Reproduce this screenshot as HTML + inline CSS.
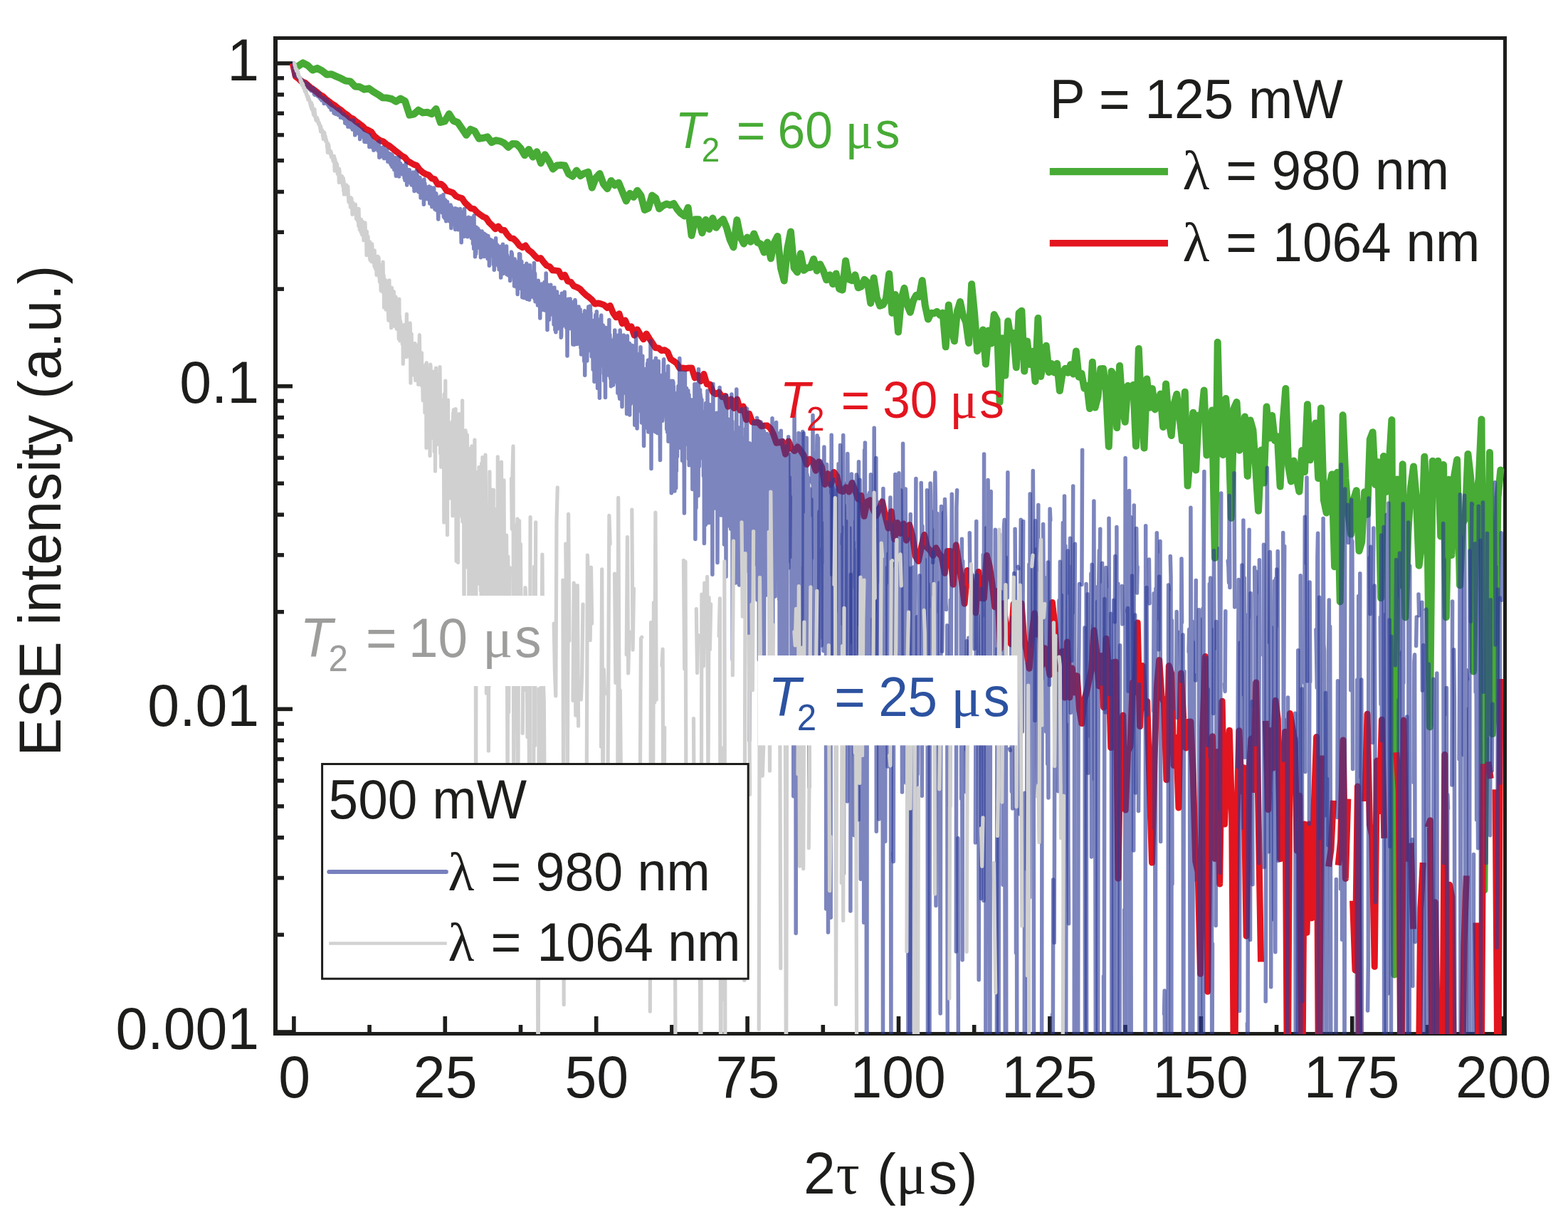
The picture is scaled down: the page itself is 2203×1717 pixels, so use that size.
<!DOCTYPE html>
<html><head><meta charset="utf-8"><title>ESE decay</title>
<style>html,body{margin:0;padding:0;background:#fff;overflow:hidden}svg{display:block}</style>
</head><body>
<svg xmlns="http://www.w3.org/2000/svg" width="2203" height="1717" viewBox="0 0 2203 1717">
<defs><clipPath id="pc"><rect x="390" y="56" width="1725" height="1397"/></clipPath></defs>
<rect width="2203" height="1717" fill="#fff"/>
<g fill="#1d1d1b"><rect x="390" y="86.20" width="21" height="5.6"/><rect x="390" y="539.87" width="21" height="5.6"/><rect x="390" y="993.53" width="21" height="5.6"/><rect x="390" y="1447.20" width="21" height="5.6"/><rect x="390" y="403.30" width="9" height="5.6"/><rect x="390" y="323.41" width="9" height="5.6"/><rect x="390" y="266.73" width="9" height="5.6"/><rect x="390" y="222.77" width="9" height="5.6"/><rect x="390" y="186.85" width="9" height="5.6"/><rect x="390" y="156.47" width="9" height="5.6"/><rect x="390" y="130.16" width="9" height="5.6"/><rect x="390" y="106.96" width="9" height="5.6"/><rect x="390" y="856.97" width="9" height="5.6"/><rect x="390" y="777.08" width="9" height="5.6"/><rect x="390" y="720.40" width="9" height="5.6"/><rect x="390" y="676.43" width="9" height="5.6"/><rect x="390" y="640.51" width="9" height="5.6"/><rect x="390" y="610.14" width="9" height="5.6"/><rect x="390" y="583.83" width="9" height="5.6"/><rect x="390" y="560.63" width="9" height="5.6"/><rect x="390" y="1310.63" width="9" height="5.6"/><rect x="390" y="1230.75" width="9" height="5.6"/><rect x="390" y="1174.07" width="9" height="5.6"/><rect x="390" y="1130.10" width="9" height="5.6"/><rect x="390" y="1094.18" width="9" height="5.6"/><rect x="390" y="1063.81" width="9" height="5.6"/><rect x="390" y="1037.50" width="9" height="5.6"/><rect x="390" y="1014.29" width="9" height="5.6"/><rect x="410.10" y="1428" width="5.6" height="24"/><rect x="622.50" y="1428" width="5.6" height="24"/><rect x="834.90" y="1428" width="5.6" height="24"/><rect x="1047.30" y="1428" width="5.6" height="24"/><rect x="1259.70" y="1428" width="5.6" height="24"/><rect x="1472.10" y="1428" width="5.6" height="24"/><rect x="1684.50" y="1428" width="5.6" height="24"/><rect x="1896.90" y="1428" width="5.6" height="24"/><rect x="2109.30" y="1428" width="5.6" height="24"/><rect x="516.30" y="1440" width="5.6" height="12"/><rect x="728.70" y="1440" width="5.6" height="12"/><rect x="941.10" y="1440" width="5.6" height="12"/><rect x="1153.50" y="1440" width="5.6" height="12"/><rect x="1365.90" y="1440" width="5.6" height="12"/><rect x="1578.30" y="1440" width="5.6" height="12"/><rect x="1790.70" y="1440" width="5.6" height="12"/><rect x="2003.10" y="1440" width="5.6" height="12"/><rect x="384" y="51" width="1733" height="5"/><rect x="384" y="1450" width="1733" height="5"/><rect x="384" y="51" width="6" height="1404"/><rect x="2112" y="51" width="5" height="1404"/></g>
<g clip-path="url(#pc)"><path fill="none" stroke="#47ab35" stroke-width="10.0" stroke-linejoin="round" stroke-linecap="round" d="M418.8 93.0L425.6 88.4L432.4 92.0L439.1 98.5L445.8 95.8L452.5 99.5L459.2 104.7L465.8 104.3L472.4 107.4L479.0 110.2L485.6 113.6L492.2 114.4L498.7 121.4L505.2 122.0L511.7 125.7L518.2 124.3L524.6 128.9L531.0 132.7L537.4 137.2L543.8 137.6L550.2 139.0L556.5 142.7L562.8 138.5L569.1 142.1L575.4 161.6L581.7 160.3L587.9 154.7L594.1 158.4L600.3 157.7L606.5 160.1L612.6 153.1L618.8 171.9L624.9 170.4L631.0 160.1L637.0 169.7L643.1 172.0L649.1 180.8L655.1 189.8L661.1 181.7L667.1 184.4L673.0 194.7L679.0 193.8L684.9 192.4L690.8 200.1L696.6 197.2L702.5 198.3L708.3 201.0L714.1 206.8L719.9 202.0L725.7 202.3L731.4 208.2L737.2 218.1L742.9 209.9L748.6 220.5L754.3 213.3L759.9 229.2L765.6 217.3L771.2 226.1L776.8 237.4L782.4 232.6L787.9 232.1L793.5 232.6L799.0 244.5L804.5 247.7L810.0 239.6L815.5 247.0L820.9 243.6L826.4 241.6L831.8 263.7L837.2 249.8L842.6 244.0L847.9 258.6L853.3 265.2L858.6 253.9L863.9 260.2L869.2 256.7L874.5 269.6L879.8 282.4L885.0 271.7L890.2 276.9L895.4 267.7L900.6 275.0L905.8 294.9L910.9 292.7L916.1 274.5L921.2 278.3L926.3 293.3L931.4 288.9L936.5 286.4L941.5 288.2L946.6 286.0L951.6 294.2L956.6 299.8L961.7 303.6L966.7 291.7L971.6 330.9L976.6 308.2L981.6 308.3L986.5 327.2L991.5 308.8L996.4 322.0L1001.3 306.6L1006.2 319.8L1011.1 312.5L1016.0 308.1L1020.8 319.5L1025.7 336.9L1030.5 347.4L1035.4 309.1L1040.2 333.1L1045.0 342.5L1049.8 333.6L1054.5 339.8L1059.3 328.4L1064.1 340.6L1068.8 342.7L1073.6 354.6L1078.3 340.4L1083.0 363.2L1087.7 341.3L1092.4 332.0L1097.0 376.8L1101.7 394.5L1106.3 349.0L1111.0 325.6L1115.6 376.5L1120.2 382.5L1124.8 356.3L1129.4 379.8L1134.0 376.4L1138.6 375.7L1143.1 364.0L1147.7 380.4L1152.2 371.3L1156.7 380.3L1161.2 393.3L1165.7 386.3L1170.2 399.0L1174.7 384.4L1179.2 406.0L1183.6 407.4L1188.1 366.4L1192.5 392.4L1196.9 394.2L1201.4 386.3L1205.8 404.3L1210.1 402.6L1214.5 392.7L1218.9 396.8L1223.2 426.0L1227.6 390.5L1231.9 418.3L1236.3 429.6L1240.6 428.3L1244.9 419.7L1249.2 384.7L1253.4 439.8L1257.7 414.0L1262.0 466.5L1266.2 420.5L1270.5 404.8L1274.7 428.7L1278.9 438.8L1283.1 422.4L1287.3 414.7L1291.5 416.9L1295.7 394.1L1299.8 429.3L1304.0 448.6L1308.1 439.7L1312.3 440.2L1316.4 437.8L1320.5 442.5L1324.6 439.6L1328.7 487.3L1332.8 428.5L1336.9 462.0L1340.9 479.3L1345.0 437.0L1349.0 424.0L1353.0 443.2L1357.1 452.4L1361.1 481.9L1365.1 399.2L1369.1 440.3L1373.1 493.2L1377.0 484.7L1381.0 463.4L1384.9 511.5L1388.9 464.4L1392.8 482.6L1396.7 442.1L1400.6 449.5L1404.6 564.7L1408.4 475.3L1412.3 527.4L1416.2 451.3L1420.1 476.4L1423.9 467.9L1427.8 516.2L1431.6 439.8L1435.4 436.7L1439.2 521.6L1443.1 479.6L1446.9 512.1L1450.7 493.7L1454.5 535.9L1458.4 447.1L1462.2 528.9L1466.0 508.2L1469.8 485.8L1473.7 523.0L1477.5 511.1L1481.3 523.4L1485.1 510.8L1488.9 549.1L1492.8 524.1L1496.6 517.8L1500.4 523.7L1504.2 512.2L1508.1 525.5L1511.9 493.5L1515.7 529.7L1519.5 524.7L1523.4 545.6L1527.2 542.0L1531.0 574.0L1534.8 508.8L1538.6 572.4L1542.5 557.4L1546.3 518.2L1550.1 518.1L1553.9 548.6L1557.8 627.4L1561.6 521.7L1565.4 528.7L1569.2 601.1L1573.1 514.0L1576.9 571.2L1580.7 592.8L1584.5 542.0L1588.4 554.2L1592.2 540.8L1596.0 626.7L1599.8 490.1L1603.6 578.9L1607.5 629.5L1611.3 532.4L1615.1 572.8L1618.9 546.1L1622.8 575.4L1626.6 564.7L1630.4 553.5L1634.2 600.0L1638.1 539.4L1641.9 589.7L1645.7 612.0L1649.5 567.8L1653.3 553.8L1657.2 584.7L1661.0 619.1L1664.8 550.8L1668.6 682.6L1672.5 634.8L1676.3 579.8L1680.1 660.5L1683.9 583.4L1687.8 588.8L1691.6 548.6L1695.4 639.5L1699.2 623.9L1703.0 576.4L1706.9 784.1L1710.7 480.8L1714.5 635.5L1718.3 639.3L1722.2 559.9L1726.0 603.3L1729.8 727.9L1733.6 573.8L1737.5 565.0L1741.3 632.8L1745.1 624.5L1748.9 585.5L1752.7 668.9L1756.6 590.5L1760.4 604.0L1764.2 658.1L1768.0 717.8L1771.9 632.5L1775.7 678.6L1779.5 571.6L1783.3 615.6L1787.2 584.0L1791.0 619.0L1794.8 613.2L1798.6 683.5L1802.5 594.5L1806.3 546.1L1810.1 654.3L1813.9 676.4L1817.7 647.4L1821.6 671.7L1825.4 690.7L1829.2 633.1L1833.0 663.0L1836.9 568.3L1840.7 646.3L1844.5 627.5L1848.3 594.4L1852.2 672.1L1856.0 573.4L1859.8 702.4L1863.6 720.5L1867.4 683.9L1871.3 666.5L1875.1 796.3L1878.9 663.8L1882.7 845.5L1886.6 583.3L1890.4 671.8L1894.2 720.9L1898.0 750.6L1901.9 701.2L1905.7 689.3L1909.5 774.0L1913.3 761.2L1917.1 691.2L1921.0 722.9L1924.8 617.2L1928.6 607.2L1932.4 681.1L1936.3 649.3L1940.1 840.3L1943.9 641.0L1947.7 690.9L1951.6 653.6L1955.4 589.9L1959.2 1369.4L1963.0 673.5L1966.8 822.4L1970.7 652.3L1974.5 867.5L1978.3 749.0L1982.1 684.9L1986.0 655.5L1989.8 698.4L1993.6 794.7L1997.4 765.7L2001.3 641.8L2005.1 711.4L2008.9 1021.4L2012.7 647.7L2016.5 679.7L2020.4 647.8L2024.2 753.6L2028.0 652.9L2031.8 867.3L2035.7 673.8L2039.5 779.9L2043.3 668.2L2047.1 646.0L2051.0 822.3L2054.8 735.7L2058.6 728.0L2062.4 637.9L2066.3 672.1L2070.1 943.4L2073.9 694.6L2077.7 672.7L2081.5 589.3L2085.4 1250.7L2089.2 813.6L2093.0 635.7L2096.8 1031.2L2100.7 973.8L2104.5 698.9L2108.3 660.4"/>
<path fill="none" stroke="#e3151f" stroke-width="9.0" stroke-linejoin="round" stroke-linecap="butt" d="M411.2 89.0L415.4 107.6L419.7 110.7L423.9 114.8L428.2 116.0L432.4 119.5L436.7 123.4L440.9 126.0L445.2 129.4L449.4 133.0L453.7 135.4L457.9 139.3L462.2 142.5L466.4 145.9L470.7 148.4L474.9 151.9L479.2 154.7L483.4 158.6L487.7 161.3L491.9 165.1L496.2 167.1L500.4 170.8L504.7 173.8L508.9 176.9L513.2 181.2L517.4 183.0L521.6 185.2L525.9 191.3L530.1 194.6L534.4 197.6L538.6 198.8L542.9 202.6L547.1 204.9L551.4 208.4L555.6 212.0L559.9 215.1L564.1 218.7L568.4 220.9L572.6 226.1L576.9 228.5L581.1 231.0L585.4 232.5L589.6 238.5L593.9 242.1L598.1 244.6L602.4 246.0L606.6 250.6L610.9 251.9L615.1 259.1L619.4 258.4L623.6 261.7L627.8 268.2L632.1 269.2L636.3 270.8L640.6 275.6L644.8 277.4L649.1 278.5L653.3 284.9L657.6 288.9L661.8 292.9L666.1 293.7L670.3 298.3L674.6 301.5L678.8 304.5L683.1 306.4L687.3 312.7L691.6 316.7L695.8 321.7L700.1 318.0L704.3 323.3L708.6 323.6L712.8 329.8L717.1 334.5L721.3 335.2L725.6 339.5L729.8 345.2L734.0 347.6L738.3 345.0L742.5 351.2L746.8 354.3L751.0 359.0L755.3 363.2L759.5 362.6L763.8 368.2L768.0 373.0L772.3 374.6L776.5 379.8L780.8 380.1L785.0 380.8L789.3 389.2L793.5 386.3L797.8 395.2L802.0 396.1L806.3 402.1L810.5 403.5L814.8 405.9L819.0 410.5L823.3 414.6L827.5 417.7L831.8 421.4L836.0 427.0L840.2 426.0L844.5 427.0L848.7 428.4L853.0 432.5L857.2 429.5L861.5 439.9L865.7 445.8L870.0 440.7L874.2 454.5L878.5 450.1L882.7 460.6L887.0 458.7L891.2 471.2L895.5 462.9L899.7 470.3L904.0 476.8L908.2 469.0L912.5 475.9L916.7 482.1L921.0 488.8L925.2 488.9L929.5 492.6L933.7 491.7L938.0 494.5L942.2 504.5L946.4 507.2L950.7 510.3L954.9 517.6L959.2 517.0L963.4 517.7L967.7 517.0L971.9 517.0L976.2 531.0L980.4 527.1L984.7 535.5L988.9 525.5L993.2 539.8L997.4 540.0L1001.7 551.1L1005.9 553.7L1010.2 551.1L1014.4 557.6L1018.7 556.5L1022.9 571.2L1027.2 561.0L1031.4 573.6L1035.7 561.1L1039.9 576.3L1044.2 570.9L1048.4 589.8L1052.6 581.3L1056.9 593.0L1061.1 593.6L1065.4 593.4L1069.6 598.8L1073.9 598.1L1078.1 598.1L1082.4 601.8L1086.6 610.0L1090.9 622.4L1095.1 621.6L1099.4 620.4L1103.6 638.2L1107.9 619.9L1112.1 630.3L1116.4 633.6L1120.6 627.8L1124.9 633.0L1129.1 639.5L1133.4 652.4L1137.6 645.1L1141.9 648.0L1146.1 661.2L1150.4 648.7L1154.6 656.1L1158.8 680.7L1163.1 665.6L1167.3 681.0L1171.6 663.4L1175.8 669.2L1180.1 689.4L1184.3 690.6L1188.6 684.8L1192.8 691.1L1197.1 678.5L1201.3 688.4L1205.6 701.1L1209.8 696.2L1214.1 725.3L1218.3 705.0L1222.6 702.8L1226.8 716.1L1231.1 724.7L1235.3 715.0L1239.6 704.8L1243.8 724.9L1248.1 742.2L1252.3 718.7L1256.6 757.6L1260.8 734.4L1265.0 749.4L1269.3 735.9L1273.5 759.2L1277.7 737.4L1281.9 751.9L1286.1 781.2L1290.3 788.4L1294.4 769.0L1298.6 751.5L1302.7 769.4L1306.8 773.2L1310.9 780.6L1315.0 769.8L1319.1 777.8L1323.1 782.1L1327.2 805.3L1331.2 774.4L1335.2 774.4L1339.2 821.3L1343.2 765.8L1347.2 792.2L1351.2 816.2L1355.1 848.2L1359.1 801.4L1363.0 805.9L1366.9 830.9L1370.8 860.9L1374.7 803.5L1378.6 840.3L1382.4 840.9L1386.3 780.4L1390.1 794.6L1393.9 819.1L1397.7 852.8L1401.5 830.4L1405.3 911.2L1409.1 848.1L1412.9 873.2L1416.6 891.7L1420.3 904.7L1424.1 848.5L1427.8 862.3L1431.5 863.1L1435.1 848.0L1438.8 898.5L1442.5 915.0L1446.1 939.2L1449.8 891.4L1453.4 861.8L1457.0 891.2L1460.6 869.8L1464.2 934.4L1467.8 910.7L1471.3 924.8L1474.9 948.0L1478.4 846.5L1481.9 877.0L1485.5 937.4L1489.0 940.8L1492.5 915.2L1495.9 980.1L1499.4 902.0L1502.9 980.0L1506.3 938.9L1509.8 973.1L1513.2 949.6L1516.6 997.6L1520.0 1016.6L1523.4 983.7L1526.8 971.5L1530.2 955.0L1533.6 940.7L1537.0 885.8L1540.4 913.9L1543.8 963.9L1547.2 921.5L1550.6 993.8L1554.0 897.3L1557.4 935.5L1560.8 1050.6L1564.2 930.6L1567.6 930.0L1571.0 1234.2L1574.4 1020.3L1577.8 1005.1L1581.2 1138.0L1584.6 1055.2L1588.0 1049.2L1591.4 959.1L1594.8 972.3L1598.2 875.0L1601.6 1020.6L1605.0 935.5L1608.3 994.8L1611.7 985.5L1615.1 1101.0L1618.5 1212.1L1621.9 1070.1L1625.3 966.0L1628.7 927.4L1632.1 978.8L1635.5 987.2L1638.9 1095.8L1642.3 935.5L1645.7 946.2L1649.1 1075.5L1652.5 1036.4L1655.9 1135.0L1659.3 946.0L1662.7 1010.0L1666.1 1050.9L1669.5 1014.2L1672.9 1013.9L1676.3 1089.5L1679.7 1210.2L1683.1 1225.1L1686.5 1368.3L1689.9 1022.6L1693.3 922.6L1696.7 1393.3L1700.1 1055.6L1703.5 1034.7L1706.9 1206.5L1710.3 1056.6L1713.7 1241.9L1717.1 985.3L1720.5 1158.0L1723.9 1075.8L1727.3 1026.2L1730.7 1144.7L1734.1 1600.0L1737.5 1167.4L1740.9 1026.8L1744.3 1111.4L1747.7 1078.7L1751.1 1315.3L1754.5 1092.4L1757.9 1037.9L1761.3 1109.6L1764.7 959.1L1768.1 1147.9L1771.5 1351.5M1778.3 1012.8L1781.7 1137.6L1785.1 1026.4L1788.5 1079.0L1791.9 984.3L1795.3 1010.4L1798.7 1206.8L1802.1 1107.7L1805.5 1028.3L1808.9 1600.0L1812.3 1002.4L1815.7 1021.7L1819.1 1042.2L1822.4 1195.3L1825.8 1118.3L1829.2 1600.0L1832.6 1158.0L1836.0 1310.5L1839.4 1158.1L1842.8 1290.0L1846.2 1132.6L1849.6 1035.6L1853.0 1600.0L1856.4 1061.4M1866.6 1217.6L1870.0 1194.1L1873.4 1124.8M1880.2 1215.8L1883.6 1180.8L1887.0 1039.9L1890.4 1234.4L1893.8 1122.5M1900.6 1265.7L1904.0 1363.2L1907.4 1105.0L1910.8 1600.0M1917.6 1126.0L1921.0 1003.3L1924.4 1158.7L1927.8 1174.2L1931.2 1358.3L1934.6 1068.9L1938.0 1139.6L1941.4 1011.2L1944.8 1177.8M1961.8 1057.1L1965.2 1110.9L1968.6 1600.0L1972.0 1012.1L1975.4 1210.7M1982.2 1184.5L1985.6 1305.4M1992.4 1600.0L1995.8 1277.6L1999.2 1211.9M2006.0 1162.4L2009.4 1152.7L2012.8 1600.0L2016.2 1267.7L2019.6 1454.3M2026.4 1545.6L2029.8 1060.3L2033.1 1600.0L2036.5 1243.2L2039.9 1259.8L2043.3 1600.0L2046.7 1600.0M2053.5 1600.0L2056.9 1328.9L2060.3 1230.4M2073.9 1296.4L2077.3 1507.7L2080.7 1600.0L2084.1 1073.3M2090.9 1070.3L2094.3 1094.0M2101.1 1109.2L2104.5 1600.0L2107.9 953.9"/>
<g fill="none" stroke="#2b3a96" stroke-width="5.5" stroke-linejoin="round" stroke-linecap="round" stroke-opacity="0.620">
<path d="M412.9 89.0L413.2 105.7L413.4 103.4L413.7 104.5L413.9 104.6L414.2 104.6L414.4 106.5L414.7 105.1L414.9 105.9L415.2 102.8L415.4 105.4L415.7 106.1L416.0 106.3L416.2 106.9L416.5 107.5L416.7 107.1L417.0 106.5L417.2 107.4L417.5 106.5L417.7 107.8L418.0 107.8L418.3 106.6L418.5 107.8L418.8 109.0L419.0 108.9L419.3 108.4L419.5 107.3L419.8 109.7L420.0 109.9L420.3 108.9L420.5 111.0L420.8 110.6L421.1 109.7L421.3 110.2L421.6 110.9L421.8 110.5L422.1 114.5L422.3 110.6L422.6 113.0L422.8 114.0L423.1 112.1L423.4 111.8L423.6 113.3L423.9 114.3L424.1 113.3L424.4 113.6L424.6 112.2L424.9 113.1L425.1 114.0L425.4 113.2L425.6 114.9L425.9 116.0L426.2 114.4L426.4 114.7L426.7 115.8L426.9 116.7L427.2 115.8L427.4 119.3L427.7 115.6L427.9 116.1L428.2 119.0L428.4 117.1L428.7 118.6L429.0 116.7L429.2 120.4L429.5 119.2L429.7 117.4L430.0 117.1L430.2 121.6L430.5 119.6L430.7 118.8L431.0 120.2L431.3 117.6L431.5 121.5L431.8 119.6L432.0 121.8L432.3 118.7L432.5 120.8L432.8 121.5L433.0 123.6L433.3 119.2L433.5 120.7L433.8 120.9L434.1 120.6L434.3 121.9L434.6 123.5L434.8 124.0L435.1 124.2L435.3 121.3L435.6 125.6L435.8 124.6L436.1 124.5L436.3 123.9L436.6 123.6L436.9 126.5L437.1 127.5L437.4 125.1L437.6 123.5L437.9 124.4L438.1 125.5L438.4 126.5L438.6 125.8L438.9 126.9L439.2 125.5L439.4 128.2L439.7 127.0L439.9 127.6L440.2 126.8L440.4 127.5L440.7 124.1L440.9 125.9L441.2 126.1L441.4 132.1L441.7 129.5L442.0 130.2L442.2 128.6L442.5 133.4L442.7 128.0L443.0 128.4L443.2 132.5L443.5 132.2L443.7 132.2L444.0 131.0L444.3 130.2L444.5 128.0L444.8 132.1L445.0 130.6L445.3 131.9L445.5 129.4L445.8 131.3L446.0 130.5L446.3 135.0L446.5 133.6L446.8 135.0L447.1 131.1L447.3 132.8L447.6 134.8L447.8 135.3L448.1 133.8L448.3 136.2L448.6 136.8L448.8 134.5L449.1 131.1L449.3 136.3L449.6 137.1L449.9 138.5L450.1 139.0L450.4 135.7L450.6 135.3L450.9 137.2L451.1 136.8L451.4 137.4L451.6 137.6L451.9 141.1L452.2 139.2L452.4 138.3L452.7 140.3L452.9 139.9L453.2 140.8L453.4 140.1L453.7 138.0L453.9 140.7L454.2 140.4L454.4 138.7L454.7 139.3L455.0 137.4L455.2 145.4L455.5 139.5L455.7 142.5L456.0 141.4L456.2 140.2L456.5 139.9L456.7 140.2L457.0 142.3L457.2 139.5L457.5 143.7L457.8 143.6L458.0 141.8L458.3 144.9L458.5 139.4L458.8 142.0L459.0 139.8L459.3 144.7L459.5 145.7L459.8 144.8L460.1 143.8L460.3 146.9L460.6 145.0L460.8 146.1L461.1 142.7L461.3 148.0L461.6 144.4L461.8 148.4L462.1 149.3L462.3 149.0L462.6 150.3L462.9 147.5L463.1 145.8L463.4 147.9L463.6 147.1L463.9 145.1L464.1 148.4L464.4 148.8L464.6 150.1L464.9 153.4L465.2 148.1L465.4 154.3L465.7 148.8L465.9 150.6L466.2 148.2L466.4 151.2L466.7 153.2L466.9 150.6L467.2 153.1L467.4 152.4L467.7 152.1L468.0 152.7L468.2 153.1L468.5 154.9L468.7 153.5L469.0 158.6L469.2 153.9L469.5 156.7L469.7 151.2L470.0 151.1L470.2 159.4L470.5 154.3L470.8 155.2L471.0 157.8L471.3 154.0L471.5 156.8L471.8 160.3L472.0 156.7L472.3 156.6L472.5 156.2L472.8 159.9L473.1 155.4L473.3 155.3L473.6 160.4L473.8 159.3L474.1 158.1L474.3 159.6L474.6 153.8L474.8 158.0L475.1 161.5L475.3 161.1L475.6 159.4L475.9 153.4L476.1 160.2L476.4 159.6L476.6 158.8L476.9 160.5L477.1 154.5L477.4 162.3L477.6 159.0L477.9 160.8L478.1 159.8L478.4 165.0L478.7 157.1L478.9 162.5L479.2 162.3L479.4 165.2L479.7 164.9L479.9 161.5L480.2 160.6L480.4 161.4L480.7 160.4L481.0 162.0L481.2 164.1L481.5 162.1L481.7 163.0L482.0 165.2L482.2 163.1L482.5 161.7L482.7 164.9L483.0 166.8L483.2 164.0L483.5 160.8L483.8 167.1L484.0 167.0L484.3 167.4L484.5 163.6L484.8 172.9L485.0 166.6L485.3 164.3L485.5 170.5L485.8 163.9L486.1 166.9L486.3 170.4L486.6 168.4L486.8 173.9L487.1 171.2L487.3 164.2L487.6 172.7L487.8 164.6L488.1 170.6L488.3 167.6L488.6 170.7L488.9 178.1L489.1 173.1L489.4 170.9L489.6 175.4L489.9 176.2L490.1 171.0L490.4 174.5L490.6 178.1L490.9 175.0L491.1 170.4L491.4 174.8L491.7 170.6L491.9 168.9L492.2 173.9L492.4 177.9L492.7 178.7L492.9 174.8L493.2 172.1L493.4 174.3L493.7 173.6L494.0 177.1L494.2 174.8L494.5 177.6L494.7 177.4L495.0 180.8L495.2 182.0L495.5 178.6L495.7 180.9L496.0 180.7L496.2 175.4L496.5 178.2L496.8 168.8L497.0 175.2L497.3 180.7L497.5 176.1L497.8 177.8L498.0 181.6L498.3 175.7L498.5 182.4L498.8 189.8L499.0 177.4L499.3 182.5L499.6 175.5L499.8 183.1L500.1 185.2L500.3 175.9L500.6 185.3L500.8 181.0L501.1 176.9L501.3 181.8L501.6 182.7L501.9 182.3L502.1 179.9L502.4 186.0L502.6 181.2L502.9 181.5L503.1 175.6L503.4 185.2L503.6 187.6L503.9 181.8L504.1 186.1L504.4 183.9L504.7 184.7L504.9 181.2L505.2 188.0L505.4 186.2L505.7 195.6L505.9 189.6L506.2 180.9L506.4 189.3L506.7 189.6L507.0 191.8L507.2 185.3L507.5 187.0L507.7 192.3L508.0 185.6L508.2 187.3L508.5 185.7L508.7 191.2L509.0 182.6L509.2 187.7L509.5 189.9L509.8 191.7L510.0 190.8L510.3 186.9L510.5 191.4L510.8 186.5L511.0 188.6L511.3 185.9L511.5 188.2L511.8 191.7L512.0 199.3L512.3 190.8L512.6 189.1L512.8 191.8L513.1 190.5L513.3 194.7L513.6 194.6L513.8 197.1L514.1 188.3L514.3 193.2L514.6 196.0L514.9 199.6L515.1 195.1L515.4 189.0L515.6 193.1L515.9 198.1L516.1 189.7L516.4 189.9L516.6 191.9L516.9 192.9L517.1 191.7L517.4 194.3L517.7 193.6L517.9 200.2L518.2 191.2L518.4 196.5L518.7 189.5L518.9 206.4L519.2 195.2L519.4 194.3L519.7 200.0L519.9 196.9L520.2 195.9L520.5 196.8L520.7 201.7L521.0 200.3L521.2 195.7L521.5 194.9L521.7 200.0L522.0 200.3L522.2 200.0L522.5 196.7L522.8 205.8L523.0 207.2L523.3 201.2L523.5 206.7L523.8 204.7L524.0 202.0L524.3 200.6L524.5 207.5L524.8 199.7L525.0 211.1L525.3 201.2L525.6 210.8L525.8 209.6L526.1 201.5L526.3 206.2L526.6 208.2L526.8 206.9L527.1 203.1L527.3 205.6L527.6 205.7L527.9 201.2L528.1 209.3L528.4 208.4L528.6 208.8L528.9 201.6L529.1 202.6L529.4 201.5L529.6 207.6L529.9 208.4L530.1 204.1L530.4 209.9L530.7 204.6L530.9 205.3L531.2 212.0L531.4 209.4L531.7 209.8L531.9 201.7L532.2 198.2L532.4 210.4L532.7 210.1L532.9 221.2L533.2 209.6L533.5 210.9L533.7 216.1L534.0 207.7L534.2 219.0L534.5 212.7L534.7 211.3L535.0 218.1L535.2 208.4L535.5 207.7L535.8 219.5L536.0 219.9L536.3 210.5L536.5 213.7L536.8 219.6L537.0 215.4L537.3 214.8L537.5 215.2L537.8 210.8L538.0 213.1L538.3 206.8L538.6 208.8L538.8 212.3L539.1 210.7L539.3 209.7L539.6 212.9L539.8 222.6L540.1 212.6L540.3 216.6L540.6 209.4L540.8 217.0L541.1 215.1L541.4 216.3L541.6 210.0L541.9 217.5L542.1 219.9L542.4 217.3L542.6 221.2L542.9 218.4L543.1 219.5L543.4 218.3L543.7 210.5L543.9 222.2L544.2 220.2L544.4 221.6L544.7 217.5L544.9 227.1L545.2 224.8L545.4 221.7L545.7 219.0L545.9 222.2L546.2 224.8L546.5 226.9L546.7 220.0L547.0 215.6L547.2 221.4L547.5 222.4L547.7 221.3L548.0 228.7L548.2 225.6L548.5 225.6L548.8 222.9L549.0 224.9L549.3 231.4L549.5 219.3L549.8 216.7L550.0 227.0L550.3 223.7L550.5 224.7L550.8 222.2L551.0 234.5L551.3 218.4L551.6 229.5L551.8 220.6L552.1 227.0L552.3 229.7L552.6 228.6L552.8 223.4L553.1 233.0L553.3 230.6L553.6 231.4L553.8 238.5L554.1 222.3L554.4 226.4L554.6 229.8L554.9 223.7L555.1 235.4L555.4 230.8L555.6 221.4L555.9 225.5L556.1 243.7L556.4 247.3L556.7 237.3L556.9 226.0L557.2 234.6L557.4 233.4L557.7 229.1L557.9 237.6L558.2 231.7L558.4 228.7L558.7 230.7L558.9 231.4L559.2 237.2L559.5 231.2L559.7 236.7L560.0 227.3L560.2 220.7L560.5 239.2L560.7 247.9L561.0 237.8L561.2 233.5L561.5 229.9L561.7 230.0L562.0 240.8L562.3 241.1L562.5 229.6L562.8 243.3L563.0 231.0L563.3 238.7L563.5 233.3L563.8 233.8L564.0 233.7L564.3 233.6L564.6 244.4L564.8 237.1L565.1 238.9L565.3 237.5L565.6 232.4L565.8 241.3L566.1 244.2L566.3 244.5L566.6 242.2L566.8 236.2L567.1 245.7L567.4 234.3L567.6 239.6L567.9 242.9L568.1 249.8L568.4 240.5L568.6 238.1L568.9 253.3L569.1 235.6L569.4 233.2L569.7 241.1L569.9 240.4L570.2 229.5L570.4 236.5L570.7 249.5L570.9 244.3L571.2 245.4L571.4 245.6L571.7 259.9L571.9 240.6L572.2 249.3L572.5 244.6L572.7 246.7L573.0 240.8L573.2 248.1L573.5 251.5L573.7 243.5L574.0 238.4L574.2 249.2L574.5 239.1L574.7 246.0L575.0 251.2L575.3 238.8L575.5 253.5L575.8 242.3L576.0 252.0L576.3 246.2L576.5 257.2L576.8 254.8L577.0 243.1L577.3 248.7L577.6 249.9L577.8 253.2L578.1 247.8L578.3 260.0L578.6 258.4L578.8 252.3L579.1 257.0L579.3 256.3L579.6 252.4L579.8 253.1L580.1 253.9L580.4 242.1L580.6 246.4L580.9 245.3L581.1 253.5L581.4 256.9L581.6 263.5L581.9 256.3L582.1 268.4L582.4 258.4L582.7 249.7L582.9 244.5L583.2 248.9L583.4 261.2L583.7 252.4L583.9 261.2L584.2 250.7L584.4 257.0L584.7 250.9L584.9 240.2L585.2 250.9L585.5 242.1L585.7 256.2L586.0 259.9L586.2 249.1L586.5 246.8L586.7 262.1L587.0 258.0L587.2 268.8L587.5 260.4L587.7 253.3L588.0 260.1L588.3 263.6L588.5 269.8L588.8 257.6L589.0 255.0L589.3 256.5L589.5 259.1L589.8 270.1L590.0 249.4L590.3 261.9L590.6 262.8L590.8 256.9L591.1 277.9L591.3 262.9L591.6 263.6L591.8 260.3L592.1 253.9L592.3 260.0L592.6 276.9L592.8 266.2L593.1 262.6L593.4 263.2L593.6 273.8L593.9 276.9L594.1 261.1L594.4 262.7L594.6 265.5L594.9 278.4L595.1 253.5L595.4 287.3L595.6 268.9L595.9 252.0L596.2 267.9L596.4 265.3L596.7 275.9L596.9 257.8L597.2 277.3L597.4 266.0L597.7 267.1L597.9 276.2L598.2 262.2L598.5 279.5L598.7 274.1L599.0 269.5L599.2 272.5L599.5 266.3L599.7 263.2L600.0 272.4L600.2 274.5L600.5 274.5L600.7 273.6L601.0 265.1L601.3 272.9L601.5 268.5L601.8 272.4L602.0 278.4L602.3 265.8L602.5 280.4L602.8 272.6L603.0 262.0L603.3 281.5L603.6 273.8L603.8 285.9L604.1 277.7L604.3 285.7L604.6 277.0L604.8 278.6L605.1 273.7L605.3 263.3L605.6 273.0L605.8 270.4L606.1 276.0L606.4 277.7L606.6 282.5L606.9 290.6L607.1 276.0L607.4 264.6L607.6 273.4L607.9 281.4L608.1 265.1L608.4 281.0L608.6 282.7L608.9 287.7L609.2 285.9L609.4 280.5L609.7 263.9L609.9 280.6L610.2 287.4L610.4 284.2L610.7 281.5L610.9 293.7L611.2 279.2L611.5 275.0L611.7 278.1L612.0 276.2L612.2 291.4L612.5 295.1L612.7 271.7L613.0 273.3L613.2 294.5L613.5 280.6L613.7 282.2L614.0 278.4L614.3 281.3L614.5 287.1L614.8 281.8L615.0 282.3L615.3 284.2L615.5 299.3L615.8 307.9L616.0 290.9L616.3 298.2L616.5 282.9L616.8 279.5L617.1 283.3L617.3 288.6L617.6 285.3L617.8 276.9L618.1 292.3L618.3 279.2L618.6 281.1L618.8 284.9L619.1 275.8L619.4 293.3L619.6 280.2L619.9 295.6L620.1 294.5L620.4 297.2L620.6 285.0L620.9 296.6L621.1 288.6L621.4 298.8L621.6 281.0L621.9 275.2L622.2 288.1L622.4 277.1L622.7 285.8L622.9 273.5L623.2 290.0L623.4 304.5L623.7 279.4L623.9 292.6L624.2 300.5L624.5 297.5L624.7 306.2L625.0 293.8L625.2 301.8L625.5 280.9L625.7 287.7L626.0 307.7L626.2 306.6L626.5 298.6L626.7 310.8L627.0 295.2L627.3 294.9L627.5 301.3L627.8 299.6L628.0 291.0L628.3 283.8L628.5 283.4L628.8 295.6L629.0 289.0L629.3 302.7L629.5 293.1L629.8 305.1L630.1 290.9L630.3 308.0L630.6 305.8L630.8 297.7L631.1 293.2L631.3 310.8L631.6 303.0L631.8 297.4L632.1 296.9L632.4 306.4L632.6 298.4L632.9 301.8L633.1 288.0L633.4 295.2L633.6 311.9L633.9 320.4L634.1 299.8L634.4 290.9L634.6 299.6L634.9 293.8L635.2 305.8L635.4 314.0L635.7 295.6L635.9 301.4L636.2 296.6L636.4 315.1L636.7 301.3L636.9 308.7L637.2 296.4L637.4 308.7L637.7 309.2L638.0 309.3L638.2 293.4L638.5 304.2L638.7 311.5L639.0 314.2L639.2 314.6L639.5 292.8L639.7 322.4L640.0 313.6L640.3 300.5L640.5 296.1L640.8 307.9L641.0 299.9L641.3 300.3L641.5 298.6L641.8 307.0L642.0 293.4L642.3 306.0L642.5 294.7L642.8 318.3L643.1 300.1L643.3 320.3L643.6 322.8L643.8 304.6L644.1 316.9L644.3 305.4L644.6 319.6L644.8 295.8L645.1 310.0L645.4 320.8L645.6 308.9L645.9 302.8L646.1 318.1L646.4 306.5L646.6 293.5L646.9 303.8L647.1 311.9L647.4 317.3L647.6 307.0L647.9 326.9L648.2 340.8L648.4 319.1L648.7 323.3L648.9 297.8L649.2 312.2L649.4 323.1L649.7 325.0L649.9 309.6L650.2 322.3L650.4 320.1L650.7 315.7L651.0 314.2L651.2 314.4L651.5 314.4L651.7 303.9L652.0 300.6L652.2 332.2L652.5 293.6L652.7 315.4L653.0 305.4L653.3 324.1L653.5 314.2L653.8 315.4L654.0 316.6L654.3 310.0L654.5 312.2L654.8 328.1L655.0 319.7L655.3 312.0L655.5 312.6L655.8 322.5L656.1 322.2L656.3 321.2L656.6 330.7L656.8 332.8L657.1 305.9L657.3 324.4L657.6 319.9L657.8 328.4L658.1 309.2L658.3 305.3L658.6 323.9L658.9 317.1L659.1 329.6L659.4 306.0L659.6 313.9L659.9 331.2L660.1 311.3L660.4 319.8L660.6 319.6L660.9 320.3L661.2 330.6L661.4 329.5L661.7 318.5L661.9 325.2L662.2 334.4L662.4 306.2L662.7 327.5L662.9 331.2L663.2 332.8L663.4 319.4L663.7 316.9L664.0 324.1L664.2 318.4L664.5 342.4L664.7 330.9L665.0 332.2L665.2 327.6L665.5 323.1L665.7 349.6L666.0 302.9L666.3 337.5L666.5 325.4L666.8 321.0L667.0 321.0L667.3 327.2L667.5 360.8L667.8 341.3L668.0 322.8L668.3 340.0L668.5 341.7L668.8 356.4L669.1 319.3L669.3 326.4L669.6 341.0L669.8 333.4L670.1 333.3L670.3 344.2L670.6 335.6L670.8 330.5L671.1 327.7L671.3 321.0L671.6 333.5L671.9 338.8L672.1 330.2L672.4 341.1L672.6 348.0L672.9 323.5L673.1 339.2L673.4 334.2L673.6 329.0L673.9 347.7L674.2 329.6L674.4 331.7L674.7 337.6L674.9 332.7L675.2 345.1L675.4 361.7L675.7 340.5L675.9 347.5L676.2 329.1L676.4 335.4L676.7 344.0L677.0 338.1L677.2 325.1L677.5 327.5L677.7 335.5L678.0 335.1L678.2 342.7L678.5 341.4L678.7 334.1L679.0 341.7L679.2 337.5L679.5 353.1L679.8 359.7L680.0 360.3L680.3 346.3L680.5 328.2L680.8 329.8L681.0 353.2L681.3 359.9L681.5 334.4L681.8 338.1L682.1 358.5L682.3 332.4L682.6 341.8L682.8 330.1L683.1 340.4L683.3 334.9L683.6 341.1L683.8 355.4L684.1 347.6L684.3 352.7L684.6 336.7L684.9 356.9L685.1 363.4L685.4 338.9L685.6 334.3L685.9 331.4L686.1 335.2L686.4 364.3L686.6 355.1L686.9 353.7L687.2 348.0L687.4 373.3L687.7 348.3L687.9 345.4L688.2 359.5L688.4 347.6L688.7 336.4L688.9 348.9L689.2 338.2L689.4 338.9L689.7 345.5L690.0 346.1L690.2 354.7L690.5 337.4L690.7 356.3L691.0 359.2L691.2 343.7L691.5 360.0L691.7 347.2L692.0 340.6L692.2 351.4L692.5 351.4L692.8 342.7L693.0 344.7L693.3 371.4L693.5 368.9L693.8 339.1L694.0 349.5L694.3 379.3L694.5 370.3L694.8 354.3L695.1 366.3L695.3 349.7L695.6 354.3L695.8 349.9L696.1 369.5L696.3 348.9L696.6 334.8L696.8 365.7L697.1 342.0L697.3 345.8L697.6 349.7L697.9 358.0L698.1 371.3L698.4 368.1L698.6 349.2L698.9 347.1L699.1 344.6L699.4 347.7L699.6 348.6L699.9 364.1L700.1 373.8L700.4 357.1L700.7 353.9L700.9 358.9L701.2 378.8L701.4 366.6L701.7 378.7L701.9 359.1L702.2 373.8L702.4 363.2L702.7 357.7L703.0 360.1L703.2 346.4L703.5 375.7L703.7 390.1L704.0 351.7L704.2 346.9L704.5 346.7L704.7 359.9L705.0 357.2L705.2 362.3L705.5 380.0L705.8 371.1L706.0 358.5L706.3 371.6L706.5 343.2L706.8 384.5L707.0 370.6L707.3 352.6L707.5 373.2L707.8 380.1L708.1 383.3L708.3 375.4L708.6 349.2L708.8 362.0L709.1 360.9L709.3 373.7L709.6 357.5L709.8 366.5L710.1 379.5L710.3 373.8L710.6 366.0L710.9 354.8L711.1 369.6L711.4 363.1L711.6 346.0L711.9 379.6L712.1 385.6L712.4 358.3L712.6 364.9L712.9 371.7L713.1 367.4L713.4 375.0L713.7 364.8L713.9 375.6L714.2 361.9L714.4 386.9L714.7 382.5L714.9 370.8L715.2 378.4L715.4 364.2L715.7 373.5L716.0 380.1L716.2 370.8L716.5 380.3L716.7 394.4L717.0 388.9L717.2 384.6L717.5 380.5L717.7 373.5L718.0 363.8L718.2 368.3L718.5 354.1L718.8 360.1L719.0 378.2L719.3 356.1L719.5 361.8L719.8 382.3L720.0 372.8L720.3 363.4L720.5 374.1L720.8 364.8L721.0 372.6L721.3 369.0L721.6 382.1L721.8 373.4L722.1 383.2L722.3 370.2L722.6 401.9L722.8 374.9L723.1 363.9L723.3 372.2L723.6 380.1L723.9 373.2L724.1 391.5L724.4 391.6L724.6 385.4L724.9 382.9L725.1 369.0L725.4 393.4L725.6 369.0L725.9 403.6L726.1 392.7L726.4 382.8L726.7 367.9L726.9 391.0L727.2 413.4L727.4 377.8L727.7 383.8L727.9 398.5L728.2 398.2L728.4 393.5L728.7 383.1L729.0 376.0L729.2 405.5L729.5 356.8L729.7 385.8L730.0 390.5L730.2 377.0L730.5 384.5L730.7 357.2L731.0 372.3L731.2 391.6L731.5 392.2L731.8 393.9L732.0 392.0L732.3 378.7L732.5 396.7L732.8 367.4L733.0 389.3L733.3 390.4L733.5 376.3L733.8 417.7L734.0 402.3L734.3 381.4L734.6 389.5L734.8 390.0L735.1 384.7L735.3 398.7L735.6 392.9L735.8 410.3L736.1 418.5L736.3 374.6L736.6 404.7L736.9 401.8L737.1 373.6L737.4 378.1L737.6 399.8L737.9 400.1L738.1 394.0L738.4 406.7L738.6 385.8L738.9 391.5L739.1 392.0L739.4 383.8L739.7 384.4L739.9 370.3L740.2 374.6L740.4 420.3L740.7 382.9L740.9 411.6L741.2 416.7L741.4 386.1L741.7 406.1L742.0 400.7L742.2 382.0L742.5 406.3L742.7 410.0L743.0 392.6L743.2 380.8L743.5 390.3L743.7 421.2L744.0 407.5L744.2 400.5L744.5 372.8L744.8 386.4L745.0 387.2L745.3 382.7L745.5 403.9L745.8 392.9L746.0 393.0L746.3 414.6L746.5 400.6L746.8 392.6L747.0 417.0L747.3 389.7L747.6 390.6L747.8 387.1L748.1 413.2L748.3 400.4L748.6 382.1L748.8 391.2L749.1 414.4L749.3 399.6L749.6 383.4L749.9 404.4L750.1 398.0L750.4 369.4L750.6 404.5L750.9 405.8L751.1 419.8L751.4 414.6L751.6 384.2L751.9 407.2L752.1 423.7L752.4 419.8L752.7 405.8L752.9 395.1L753.2 417.6L753.4 396.3L753.7 414.2L753.9 401.8L754.2 399.7L754.4 398.7L754.7 414.3L754.9 410.6L755.2 400.9L755.5 428.9L755.7 406.2L756.0 401.5L756.2 394.2L756.5 410.1L756.7 412.6L757.0 407.9L757.2 421.7L757.5 413.7L757.8 404.7L758.0 406.8L758.3 427.8L758.5 416.5L758.8 446.9L759.0 400.2L759.3 420.5L759.5 408.9L759.8 430.3L760.0 414.3L760.3 406.5L760.6 399.0L760.8 435.8L761.1 401.4L761.3 416.8L761.6 426.8L761.8 407.5L762.1 419.6L762.3 419.8L762.6 426.7L762.9 412.3L763.1 415.4L763.4 418.9L763.6 431.9L763.9 424.8L764.1 410.7L764.4 398.1L764.6 417.7L764.9 396.6L765.1 418.0L765.4 435.9L765.7 408.6L765.9 434.3L766.2 412.5L766.4 402.7L766.7 424.1L766.9 420.8L767.2 384.0L767.4 416.1L767.7 415.9L767.9 408.3L768.2 422.1L768.5 422.1L768.7 415.0L769.0 463.6L769.2 400.0L769.5 439.5L769.7 439.9L770.0 413.6L770.2 421.9L770.5 443.7L770.8 419.4L771.0 442.2L771.3 434.8L771.5 449.3L771.8 437.5L772.0 417.6L772.3 422.1L772.5 419.4L772.8 410.2L773.0 425.5L773.3 436.1L773.6 429.9L773.8 400.3L774.1 425.2L774.3 420.8L774.6 427.8L774.8 422.4L775.1 419.7L775.3 427.0L775.6 429.7L775.8 440.6L776.1 442.0L776.4 421.2L776.6 416.0L776.9 413.6L777.1 427.6L777.4 442.8L777.6 418.8L777.9 419.2L778.1 456.0L778.4 416.7L778.7 420.4L778.9 404.1L779.2 450.0L779.4 453.1L779.7 418.0L779.9 463.5L780.2 443.8L780.4 450.6L780.7 449.4L780.9 466.8L781.2 436.1L781.5 416.5L781.7 425.2L782.0 425.4L782.2 439.1L782.5 410.1L782.7 424.7L783.0 416.6L783.2 462.0L783.5 428.3L783.8 454.7L784.0 428.6L784.3 431.3L784.5 455.1L784.8 432.1L785.0 416.4L785.3 427.1L785.5 425.9L785.8 451.3L786.0 448.2L786.3 456.5L786.6 434.4L786.8 417.4L787.1 429.7L787.3 437.3L787.6 457.8L787.8 430.2L788.1 442.1L788.3 474.3L788.6 470.9L788.8 444.6L789.1 455.0L789.4 412.2L789.6 438.7L789.9 458.5L790.1 448.4L790.4 413.9L790.6 457.5L790.9 427.3L791.1 433.1L791.4 416.6L791.7 431.9L791.9 448.5L792.2 432.4L792.4 440.6L792.7 425.5L792.9 443.3L793.2 410.2L793.4 444.4L793.7 435.2L793.9 455.0L794.2 441.0L794.5 443.0L794.7 440.7L795.0 428.5L795.2 453.9L795.5 460.1L795.7 425.7L796.0 450.0L796.2 457.4L796.5 425.5L796.7 431.9L797.0 500.0L797.3 452.8L797.5 432.4L797.8 431.8L798.0 456.0L798.3 420.3L798.5 461.8L798.8 451.4L799.0 445.1L799.3 447.7L799.6 433.7L799.8 430.3L800.1 449.0L800.3 424.5L800.6 461.6L800.8 452.8L801.1 419.9L801.3 447.5L801.6 430.9L801.8 457.8L802.1 454.9L802.4 452.1L802.6 447.2L802.9 456.9L803.1 450.5L803.4 439.0L803.6 430.1L803.9 449.5L804.1 440.0L804.4 435.7L804.7 473.2L804.9 484.0L805.2 424.6L805.4 429.6L805.7 451.9L805.9 446.8L806.2 471.9L806.4 481.4L806.7 448.1L806.9 484.2L807.2 437.9L807.5 467.8L807.7 449.4L808.0 421.6L808.2 422.5L808.5 460.7L808.7 436.5L809.0 476.5L809.2 467.6L809.5 449.5L809.7 431.9L810.0 468.2L810.3 447.1L810.5 455.4L810.8 483.4L811.0 460.4L811.3 431.3L811.5 460.1L811.8 449.1L812.0 443.5L812.3 473.7L812.6 436.8L812.8 432.4L813.1 431.0L813.3 436.0L813.6 469.4L813.8 472.1L814.1 476.5L814.3 479.3L814.6 477.2L814.8 442.9L815.1 434.9L815.4 474.7L815.6 446.8L815.9 488.8L816.1 469.0L816.4 483.4L816.6 497.9L816.9 462.2L817.1 462.0L817.4 471.9L817.6 474.6L817.9 484.8L818.2 467.1L818.4 477.0L818.7 460.2L818.9 490.8L819.2 460.9L819.4 455.7L819.7 442.5L819.9 446.2L820.2 462.6L820.5 480.8L820.7 507.5L821.0 467.2L821.2 440.7L821.5 436.7L821.7 527.2L822.0 483.9L822.2 475.5L822.5 490.8L822.7 465.0L823.0 468.1L823.3 480.0L823.5 470.1L823.8 505.1L824.0 490.7L824.3 489.3L824.5 452.8L824.8 507.0L825.0 475.2L825.3 455.6L825.6 472.3L825.8 455.4L826.1 485.6L826.3 463.1L826.6 454.3L826.8 430.9L827.1 458.1L827.3 445.2L827.6 472.8L827.8 471.2L828.1 443.3L828.4 461.9L828.6 446.3L828.9 459.8L829.1 434.3L829.4 430.1L829.6 493.0L829.9 439.4L830.1 466.2L830.4 465.6L830.6 478.0L830.9 461.2L831.2 500.9L831.4 492.1L831.7 493.2L831.9 470.5L832.2 458.2L832.4 462.0L832.7 469.5L832.9 490.4L833.2 519.1L833.5 469.4L833.7 475.0L834.0 470.8L834.2 450.2L834.5 482.6L834.7 483.3L835.0 536.3L835.2 467.7L835.5 480.6L835.7 496.4L836.0 471.9L836.3 504.1L836.5 492.5L836.8 442.4L837.0 465.3L837.3 462.1L837.5 465.8L837.8 468.2L838.0 477.7L838.3 437.8L838.5 484.0L838.8 467.2L839.1 487.7L839.3 490.9L839.6 545.5L839.8 530.9L840.1 452.5L840.3 453.8L840.6 494.1L840.8 485.2L841.1 471.7L841.4 508.3L841.6 449.6L841.9 509.9L842.1 502.4L842.4 559.3L842.6 455.2L842.9 485.2L843.1 453.5L843.4 510.6L843.6 479.7L843.9 485.7L844.2 483.2L844.4 446.2L844.7 442.9L844.9 459.6L845.2 497.8L845.4 469.7L845.7 460.8L845.9 477.1L846.2 477.0L846.5 479.1L846.7 511.5L847.0 484.7L847.2 457.0L847.5 514.6L847.7 489.0L848.0 473.0L848.2 525.2L848.5 494.7L848.7 535.0L849.0 506.4L849.3 527.5L849.5 514.2L849.8 504.3L850.0 499.5L850.3 498.0L850.5 558.6L850.8 460.2L851.0 500.5L851.3 521.4L851.5 509.6L851.8 487.7L852.1 519.7L852.3 505.1L852.6 506.7L852.8 483.5L853.1 514.2L853.3 485.8L853.6 488.4L853.8 500.1L854.1 469.7L854.4 496.6L854.6 527.1L854.9 490.6L855.1 494.8L855.4 498.9L855.6 492.8L855.9 449.5L856.1 493.2L856.4 488.3L856.6 505.0L856.9 470.5L857.2 500.9L857.4 519.8L857.7 531.5L857.9 488.1L858.2 483.5L858.4 542.8L858.7 519.0L858.9 486.4L859.2 478.2L859.4 536.2L859.7 511.9L860.0 483.0L860.2 515.6L860.5 513.7L860.7 516.3L861.0 537.4L861.2 502.1L861.5 496.2L861.7 541.0L862.0 501.5L862.3 478.9L862.5 499.4L862.8 482.8L863.0 518.7L863.3 474.2L863.5 525.5L863.8 464.0L864.0 517.1L864.3 524.4L864.5 529.4L864.8 516.8L865.1 519.2L865.3 524.6L865.6 515.4L865.8 491.6L866.1 486.9L866.3 516.3L866.6 479.6L866.8 534.7L867.1 535.9L867.4 539.1L867.6 494.5L867.9 552.2L868.1 547.8L868.4 480.0L868.6 471.1L868.9 479.0L869.1 551.8L869.4 510.3L869.6 490.9L869.9 508.6L870.2 557.0L870.4 520.4L870.7 560.2L870.9 545.9L871.2 464.1L871.4 496.0L871.7 554.0L871.9 555.3L872.2 501.9L872.4 529.6L872.7 499.4L873.0 531.1L873.2 519.3L873.5 508.3L873.7 543.0L874.0 571.5L874.2 548.4L874.5 534.1L874.7 520.8L875.0 517.3L875.3 517.7L875.5 503.4L875.8 541.0L876.0 483.5L876.3 470.9L876.5 507.9L876.8 512.6L877.0 487.6L877.3 501.7L877.5 513.3L877.8 522.8L878.1 538.9L878.3 552.1L878.6 502.3L878.8 490.3L879.1 549.4L879.3 521.6L879.6 514.3L879.8 531.8L880.1 541.6L880.3 531.3L880.6 581.5L880.9 522.7L881.1 529.3L881.4 472.1L881.6 498.4L881.9 531.5L882.1 522.5L882.4 481.3L882.6 483.9L882.9 518.1L883.2 526.7L883.4 566.5L883.7 532.6L883.9 528.5L884.2 545.0L884.4 482.5L884.7 583.0L884.9 528.5L885.2 514.3L885.4 513.8L885.7 484.4L886.0 567.8L886.2 547.4L886.5 523.5L886.7 522.8L887.0 537.4L887.2 548.9L887.5 499.8L887.7 558.3L888.0 543.9L888.3 491.9L888.5 485.4L888.8 505.6L889.0 553.7L889.3 553.7L889.5 555.4L889.8 563.2L890.0 541.2L890.3 497.3L890.5 523.8L890.8 552.2L891.1 553.2L891.3 566.3L891.6 499.8L891.8 597.3L892.1 523.8L892.3 576.5L892.6 563.9L892.8 578.9L893.1 507.0L893.3 534.9L893.6 467.7L893.9 564.7L894.1 566.9L894.4 517.6L894.6 518.5L894.9 542.2L895.1 602.0L895.4 497.4L895.6 519.3L895.9 524.1L896.2 553.0L896.4 518.1L896.7 552.6L896.9 534.9L897.2 541.9L897.4 503.6L897.7 550.9L897.9 547.4L898.2 508.0L898.4 531.3L898.7 538.5L899.0 545.3L899.2 512.7L899.5 558.6L899.7 525.8L900.0 487.7L900.2 528.2L900.5 564.1L900.7 578.6L901.0 536.0L901.3 580.1L901.5 594.0L901.8 564.7L902.0 576.4L902.3 517.4L902.5 590.0L902.8 500.2L903.0 565.9L903.3 539.1L903.5 523.9L903.8 536.6L904.1 523.0L904.3 575.3L904.6 626.6L904.8 550.2L905.1 602.3L905.3 562.8L905.6 518.5L905.8 551.2L906.1 564.1L906.3 582.9L906.6 554.9L906.9 551.5L907.1 601.0L907.4 538.0L907.6 582.5L907.9 540.7L908.1 561.6L908.4 519.7L908.6 523.5L908.9 547.9L909.2 551.7L909.4 535.6L909.7 510.5L909.9 518.8L910.2 544.2L910.4 539.7L910.7 506.1L910.9 607.0L911.2 533.6L911.4 579.4L911.7 512.1L912.0 565.7L912.2 553.5L912.5 586.8L912.7 549.8L913.0 527.5L913.2 504.9L913.5 594.1L913.7 565.0L914.0 478.9L914.2 524.0L914.5 551.5L914.8 535.9L915.0 658.5L915.3 507.2L915.5 547.1L915.8 602.6L916.0 519.0L916.3 573.1L916.5 587.6L916.8 537.2L917.1 540.9L917.3 568.2L917.6 555.8L917.8 601.0L918.1 605.4L918.3 527.8L918.6 516.8L918.8 541.5L919.1 543.4L919.3 567.9L919.6 559.4L919.9 587.5L920.1 506.8L920.4 574.8L920.6 543.6L920.9 556.4L921.1 606.9L921.4 503.2L921.6 569.4L921.9 583.4L922.2 553.9L922.4 588.7L922.7 557.0L922.9 591.6L923.2 541.1L923.4 556.9L923.7 608.6L923.9 528.3L924.2 553.2L924.4 598.7L924.7 548.5L925.0 546.5L925.2 507.6L925.5 590.5L925.7 534.6L926.0 563.8L926.2 541.9L926.5 569.9L926.7 563.3L927.0 546.0L927.2 605.0L927.5 646.5L927.8 562.5L928.0 577.6L928.3 559.8L928.5 542.8L928.8 570.2L929.0 527.4L929.3 564.7L929.5 559.8L929.8 538.0L930.1 545.3L930.3 566.9L930.6 560.1L930.8 591.2L931.1 586.0L931.3 561.4L931.6 539.6L931.8 580.2L932.1 539.2L932.3 509.6L932.6 504.7L932.9 564.9L933.1 533.6L933.4 546.8L933.6 541.7L933.9 540.3L934.1 549.9L934.4 541.0L934.6 560.7L934.9 576.1L935.1 559.0L935.4 551.6L935.7 530.4L935.9 555.8L936.2 544.6L936.4 525.3L936.7 603.0L936.9 577.9L937.2 551.6L937.4 568.4L937.7 607.3L938.0 538.7L938.2 572.4L938.5 607.6L938.7 514.6L939.0 620.2L939.2 571.4L939.5 595.6L939.7 567.7L940.0 553.2L940.2 602.2L940.5 575.8L940.8 577.0L941.0 610.7L941.3 536.3L941.5 567.3L941.8 583.6L942.0 598.2L942.3 585.8L942.5 569.2L942.8 591.1L943.1 535.3L943.3 692.7L943.6 669.1L943.8 584.5L944.1 653.7L944.3 578.1L944.6 600.5L944.8 556.8L945.1 562.4L945.3 535.3L945.6 546.8L945.9 537.2L946.1 559.4L946.4 543.0L946.6 560.8L946.9 600.1L947.1 628.4L947.4 626.9L947.6 562.2L947.9 689.9L948.1 572.9L948.4 608.2L948.7 554.9L948.9 572.8L949.2 608.9L949.4 579.7L949.7 685.7L949.9 571.2L950.2 564.8L950.4 661.7L950.7 552.6L951.0 585.9L951.2 575.6L951.5 641.4L951.7 561.4L952.0 562.4L952.2 583.1L952.5 622.2L952.7 557.1L953.0 542.4L953.2 569.3L953.5 550.1L953.8 606.3L954.0 578.3L954.3 570.7L954.5 578.9L954.8 503.5L955.0 569.6L955.3 606.2L955.5 556.5L955.8 629.3L956.0 571.9L956.3 558.7L956.6 604.2L956.8 597.5L957.1 623.5L957.3 580.9L957.6 612.4L957.8 530.6L958.1 563.6L958.3 594.7L958.6 647.3L958.9 522.9L959.1 543.7L959.4 570.2L959.6 580.0L959.9 581.0L960.1 605.7L960.4 527.9L960.6 580.4L960.9 650.7L961.1 614.5L961.4 721.0L961.7 565.6L961.9 562.3L962.2 532.1L962.4 523.3L962.7 621.5L962.9 573.7L963.2 555.9L963.4 562.6L963.7 610.9L964.0 562.7L964.2 573.3L964.5 545.6L964.7 592.8L965.0 601.3L965.2 612.7L965.5 607.5L965.7 624.4L966.0 606.5L966.2 575.0L966.5 576.8L966.8 548.8L967.0 556.1L967.3 571.7L967.5 645.0L967.8 574.2L968.0 554.8L968.3 653.8L968.5 644.7L968.8 637.2L969.0 641.7L969.3 608.4L969.6 637.4L969.8 582.8L970.1 651.9L970.3 603.1L970.6 618.9L970.8 640.9L971.1 561.8L971.3 598.0L971.6 579.0L971.9 613.2L972.1 573.8L972.4 577.1L972.6 606.4L972.9 687.5L973.1 570.6L973.4 575.2L973.6 594.1L973.9 591.9L974.1 596.7L974.4 594.3L974.7 646.9L974.9 604.5L975.2 590.1L975.4 628.9L975.7 646.3L975.9 539.8L976.2 580.3L976.4 616.3L976.7 624.7L976.9 757.6L977.2 672.4L977.5 614.8L977.7 558.4L978.0 713.4L978.2 635.8L978.5 539.8L978.7 580.1L979.0 589.6L979.2 562.5L979.5 611.2L979.8 613.8L980.0 579.4L980.3 574.8L980.5 656.6L980.8 552.9L981.0 696.6L981.3 638.6L981.5 518.8L981.8 630.5L982.0 583.0L982.3 655.1L982.6 622.5L982.8 641.4L983.1 626.5L983.3 584.0L983.6 547.8L983.8 576.6L984.1 554.1L984.3 632.7L984.6 557.3L984.9 588.5L985.1 560.7L985.4 629.6L985.6 621.5L985.9 561.4L986.1 587.9L986.4 607.8L986.6 643.8L986.9 617.1L987.1 593.7L987.4 585.0L987.7 638.8L987.9 629.1L988.2 596.9L988.4 668.7L988.7 578.6L988.9 615.8L989.2 621.8L989.4 763.6L989.7 701.3L989.9 668.1L990.2 644.7L990.5 672.5L990.7 602.9L991.0 613.1L991.2 631.1L991.5 737.3L991.7 566.4L992.0 632.4L992.2 595.8L992.5 652.1L992.8 620.6L993.0 592.4L993.3 610.9L993.5 582.9L993.8 629.7L994.0 549.1L994.3 731.0L994.5 648.4L994.8 583.3L995.0 634.3L995.3 643.8L995.6 724.3L995.8 576.3L996.1 734.5L996.3 602.6L996.6 615.8L996.8 588.9L997.1 568.4L997.3 659.6L997.6 665.7L997.8 640.6L998.1 724.5L998.4 592.3L998.6 645.4L998.9 619.8L999.1 686.6L999.4 627.1L999.6 658.4L999.9 631.6L1000.1 686.0L1000.4 586.7L1000.7 661.3L1000.9 807.2L1001.2 602.0L1001.4 644.2L1001.7 675.8L1001.9 539.5L1002.2 633.1L1002.4 705.3L1002.7 662.0L1002.9 614.6L1003.2 642.5L1003.5 581.4L1003.7 588.0L1004.0 673.3L1004.2 630.9L1004.5 605.0L1004.7 653.5L1005.0 656.4L1005.2 596.2L1005.5 613.7L1005.8 714.3L1006.0 662.0L1006.3 655.0L1006.5 640.4L1006.8 672.2L1007.0 580.2L1007.3 687.7L1007.5 695.3L1007.8 626.1L1008.0 790.5L1008.3 692.7L1008.6 608.8L1008.8 713.0L1009.1 682.1L1009.3 591.1L1009.6 616.6L1009.8 634.8L1010.1 626.4L1010.3 673.5L1010.6 623.7L1010.8 648.3L1011.1 544.4L1011.4 614.2L1011.6 655.9L1011.9 641.6L1012.1 636.6L1012.4 721.2L1012.6 684.3L1012.9 576.8L1013.1 723.9L1013.4 670.7L1013.7 595.8L1013.9 577.8L1014.2 698.5L1014.4 579.8L1014.7 659.8L1014.9 573.2L1015.2 618.2L1015.4 656.1L1015.7 608.8L1015.9 616.1L1016.2 684.6L1016.5 557.4L1016.7 660.4L1017.0 592.6L1017.2 668.7L1017.5 765.0L1017.7 709.2L1018.0 648.8L1018.2 612.5L1018.5 571.3L1018.7 640.3L1019.0 659.3L1019.3 718.9L1019.5 647.4L1019.8 630.7L1020.0 810.2L1020.3 588.9L1020.5 595.5L1020.8 555.4L1021.0 699.1L1021.3 644.7L1021.6 646.2L1021.8 730.0L1022.1 696.5L1022.3 705.9L1022.6 623.2L1022.8 627.3L1023.1 589.1L1023.3 670.6L1023.6 738.7L1023.8 627.8L1024.1 631.2L1024.4 617.9L1024.6 594.1L1024.9 683.2L1025.1 612.8L1025.4 711.5L1025.6 642.9L1025.9 618.1L1026.1 657.5L1026.4 640.5L1026.7 743.2L1026.9 689.6L1027.2 644.6L1027.4 729.1L1027.7 704.0L1027.9 554.1L1028.2 640.2L1028.4 703.2L1028.7 718.4L1028.9 592.0L1029.2 926.8L1029.5 676.1L1029.7 626.6L1030.0 692.0L1030.2 632.5L1030.5 727.7L1030.7 661.0L1031.0 658.3L1031.2 660.3L1031.5 653.5L1031.7 659.6L1032.0 608.0L1032.3 677.6L1032.5 698.6L1032.8 679.4L1033.0 681.1L1033.3 775.6L1033.5 818.9L1033.8 760.4L1034.0 649.2L1034.3 706.6L1034.6 689.9L1034.8 546.9L1035.1 610.4L1035.3 678.2L1035.6 705.7L1035.8 600.4L1036.1 717.1L1036.3 606.5L1036.6 636.0L1036.8 600.6L1037.1 714.3L1037.4 621.7L1037.6 816.5L1037.9 678.6L1038.1 614.5L1038.4 632.3L1038.6 822.0L1038.9 633.2L1039.1 644.9L1039.4 673.7L1039.6 717.7L1039.9 687.6L1040.2 707.5L1040.4 622.1L1040.7 645.6L1040.9 617.0L1041.2 634.8L1041.4 767.2L1041.7 664.3L1041.9 574.7L1042.2 752.6L1042.5 657.0L1042.7 726.0L1043.0 735.0L1043.2 661.5L1043.5 625.6L1043.7 633.0L1044.0 648.6L1044.2 624.7L1044.5 809.9L1044.7 631.3L1045.0 652.5L1045.3 687.1L1045.5 676.6L1045.8 736.0L1046.0 616.2L1046.3 728.7L1046.5 796.4L1046.8 677.6L1047.0 716.3L1047.3 682.0L1047.6 602.2L1047.8 686.7L1048.1 670.9L1048.3 573.4L1048.6 792.1L1048.8 657.5L1049.1 617.8L1049.3 602.9L1049.6 574.5L1049.8 725.3L1050.1 645.3L1050.4 686.1L1050.6 710.7L1050.9 731.7L1051.1 802.9L1051.4 661.1L1051.6 638.9L1051.9 762.3L1052.1 638.8L1052.4 719.9L1052.6 758.9L1052.9 1040.6L1053.2 622.8L1053.4 641.9L1053.7 703.6L1053.9 709.2L1054.2 790.1L1054.4 653.1L1054.7 687.7L1054.9 652.1L1055.2 672.9L1055.5 804.0L1055.7 822.8L1056.0 659.3L1056.2 841.7L1056.5 667.9L1056.7 633.8L1057.0 791.6L1057.2 645.7L1057.5 682.0L1057.7 653.2L1058.0 730.4L1058.3 685.8L1058.5 659.1L1058.8 592.5L1059.0 642.4L1059.3 655.0L1059.5 793.2L1059.8 664.4L1060.0 734.5L1060.3 689.4L1060.6 668.4L1060.8 630.7L1061.1 650.1L1061.3 673.4L1061.6 689.1L1061.8 612.8L1062.1 753.3L1062.3 683.1L1062.6 612.2L1062.8 699.0L1063.1 638.4L1063.4 635.5L1063.6 587.3L1063.9 624.0L1064.1 843.1L1064.4 687.2L1064.6 669.2L1064.9 639.9L1065.1 664.3L1065.4 592.2L1065.6 627.1L1065.9 789.4L1066.2 737.4L1066.4 927.0L1066.7 600.0L1066.9 700.3L1067.2 702.2L1067.4 847.4L1067.7 726.3L1067.9 667.4L1068.2 725.4L1068.5 725.4L1068.7 745.1L1069.0 593.1L1069.2 740.8L1069.5 841.6L1069.7 739.7L1070.0 726.6L1070.2 707.6L1070.5 719.7L1070.7 804.3L1071.0 717.5L1071.3 677.2L1071.5 844.9L1071.8 596.6L1072.0 608.8L1072.3 921.6L1072.5 733.6L1072.8 642.8L1073.0 626.1L1073.3 605.7L1073.5 933.8L1073.8 811.1L1074.1 748.3L1074.3 669.9L1074.6 807.7L1074.8 677.3L1075.1 676.1L1075.3 659.9L1075.6 836.5L1075.8 693.0L1076.1 701.7L1076.4 740.4L1076.6 628.6L1076.9 729.7L1077.1 621.4L1077.4 756.3L1077.6 609.4L1077.9 611.9L1078.1 779.0L1078.4 683.0L1078.6 684.5L1078.9 795.9L1079.2 655.5L1079.4 666.6L1079.7 783.9L1079.9 699.0L1080.2 649.5L1080.4 718.2L1080.7 767.5L1080.9 611.8L1081.2 796.5L1081.5 682.4L1081.7 636.8L1082.0 654.8L1082.2 935.8L1082.5 731.7L1082.7 715.9L1083.0 722.1L1083.2 664.2L1083.5 669.2L1083.7 696.0L1084.0 686.9L1084.3 642.2L1084.5 630.0L1084.8 949.0L1085.0 587.8L1085.3 751.2L1085.5 654.9L1085.8 891.3L1086.0 747.9L1086.3 831.6L1086.5 638.4L1086.8 649.2L1087.1 705.6L1087.3 719.3L1087.6 679.6L1087.8 792.9L1088.1 758.2L1088.3 774.4L1088.6 653.9L1088.8 705.5L1089.1 838.0L1089.4 683.5L1089.6 672.1L1089.9 624.6L1090.1 755.5L1090.4 680.3L1090.6 593.4L1090.9 735.4L1091.1 739.0L1091.4 674.4L1091.6 752.1L1091.9 710.0L1092.2 753.0L1092.4 781.9L1092.7 653.2L1092.9 742.2L1093.2 809.1L1093.4 735.2L1093.7 723.3L1093.9 690.6L1094.2 651.2L1094.4 609.1L1094.7 842.5L1095.0 733.7L1095.2 962.9L1095.5 697.9L1095.7 677.7L1096.0 774.3L1096.2 804.7L1096.5 815.2L1096.7 896.2L1097.0 672.5L1097.3 605.3L1097.5 838.4L1097.8 618.5L1098.0 727.8L1098.3 882.3L1098.5 678.8L1098.8 666.8L1099.0 690.9L1099.3 742.8L1099.5 618.3L1099.8 745.7L1100.1 675.9L1100.3 675.3L1100.6 813.4L1100.8 1008.7L1101.1 972.5L1101.3 759.1L1101.6 696.6L1101.8 992.0L1102.1 795.4L1102.4 627.2L1102.6 1002.0L1102.9 690.6L1103.1 698.7L1103.4 669.7L1103.6 918.9L1103.9 700.7L1104.1 903.6L1104.4 639.0L1104.6 818.6L1104.9 698.6L1105.2 811.2L1105.4 717.5L1105.7 941.4L1105.9 706.8L1106.2 684.2L1106.4 730.9L1106.7 625.9L1106.9 701.3L1107.2 673.0L1107.4 691.8L1107.7 613.7L1108.0 797.9L1108.2 756.3L1108.5 751.6L1108.7 684.8L1109.0 710.7L1109.2 670.8L1109.5 708.3L1109.7 783.0L1110.0 738.0L1110.3 698.0"/>
<path d="M1110.8 638.7L1111.0 789.6L1111.3 766.6L1111.5 711.6L1111.8 756.2L1112.0 935.7L1112.3 754.2L1112.5 638.9L1112.8 658.2L1113.1 647.2L1113.3 788.5L1113.6 753.1L1113.8 657.8L1114.1 633.6L1114.3 730.5L1114.6 844.1L1114.8 1118.7L1115.1 636.9L1115.3 956.4L1115.6 698.8L1115.9 667.4L1116.1 574.7L1116.4 717.1L1116.6 743.5L1116.9 696.3L1117.1 692.7L1117.4 640.5L1117.6 680.3L1117.9 816.0L1118.2 1311.3L1118.4 708.9L1118.7 805.2L1118.9 636.9L1119.2 910.7L1119.4 716.9L1119.7 813.2L1119.9 834.0L1120.2 623.5L1120.4 720.0L1120.7 751.7L1121.0 677.7L1121.2 822.5L1121.5 771.6L1121.7 803.6L1122.0 608.5L1122.2 708.2L1122.5 686.2L1122.7 654.8L1123.0 754.4L1123.3 751.6L1123.5 1016.5L1123.8 697.9L1124.0 715.3L1124.3 779.9L1124.5 650.4L1124.8 1092.5L1125.0 703.4L1125.3 943.3L1125.5 890.8L1125.8 760.0L1126.1 643.8L1126.3 902.2L1126.6 866.1L1126.8 908.2L1127.1 608.7L1127.3 697.3L1127.6 706.4L1127.8 606.5L1128.1 719.5"/>
<path d="M1128.6 796.6L1128.9 910.1L1129.1 608.7L1129.4 967.7L1129.6 716.1L1129.9 799.6L1130.1 790.7L1130.4 741.8L1130.6 757.3L1130.9 823.8L1131.2 925.5L1131.4 820.0L1131.7 885.3L1131.9 860.8L1132.2 734.5L1132.4 761.2L1132.7 704.5L1132.9 770.9L1133.2 615.3L1133.4 835.2L1133.7 881.6L1134.0 666.6L1134.2 832.6L1134.5 736.2L1134.7 670.0L1135.0 758.4L1135.2 787.2L1135.5 671.2L1135.7 718.9L1136.0 810.6L1136.3 931.3L1136.5 791.7L1136.8 1106.1L1137.0 865.1L1137.3 910.0L1137.5 723.8L1137.8 687.0L1138.1 831.0L1138.3 802.1L1138.6 914.9L1138.8 993.9L1139.1 802.3L1139.4 703.3L1139.6 711.1L1139.9 701.7L1140.2 784.0"/>
<path d="M1140.7 677.5L1141.0 652.2L1141.2 678.8L1141.5 679.4L1141.8 666.5L1142.0 583.5L1142.3 724.8L1142.6 638.6L1142.8 686.1L1143.1 695.9L1143.4 769.4L1143.7 794.5L1143.9 929.8L1144.2 703.4L1144.5 791.4L1144.7 951.4L1145.0 856.7L1145.3 949.2L1145.6 637.0L1145.8 784.7L1146.1 746.8L1146.4 959.2L1146.7 914.0L1147.0 671.4L1147.2 784.9L1147.5 737.0L1147.8 624.9L1148.1 611.9L1148.4 697.9L1148.6 714.2L1148.9 736.5L1149.2 792.9L1149.5 615.6L1149.8 968.9L1150.1 770.7"/>
<path d="M1150.6 987.5L1150.9 722.8L1151.2 718.4L1151.5 729.1L1151.8 800.5L1152.1 858.2L1152.3 831.3L1152.6 809.3L1152.9 671.1L1153.2 648.1L1153.5 721.2L1153.8 833.2L1154.1 906.9L1154.4 734.2L1154.7 791.5"/>
<path d="M1155.3 654.3L1155.6 766.6L1155.9 804.3L1156.2 896.4L1156.5 897.8L1156.8 686.8L1157.0 914.5L1157.3 757.0L1157.6 707.7L1157.9 627.9L1158.2 710.5L1158.5 772.2L1158.9 824.8L1159.2 691.3L1159.5 680.6L1159.8 823.8L1160.1 713.0L1160.4 786.1L1160.7 1277.1L1161.0 938.7L1161.3 696.0L1161.6 652.6L1161.9 706.6L1162.2 795.9L1162.5 876.5L1162.8 719.1L1163.1 738.0L1163.5 1310.1L1163.8 710.0L1164.1 877.2L1164.4 708.7L1164.7 720.3L1165.0 704.6L1165.3 678.7L1165.6 706.7L1166.0 962.7L1166.3 954.4L1166.6 681.6L1166.9 727.0L1167.2 1289.3"/>
<path d="M1167.9 693.0L1168.2 611.2L1168.5 698.4L1168.8 807.2L1169.2 748.5"/>
<path d="M1169.8 956.6L1170.1 685.0L1170.5 696.7"/>
<path d="M1171.1 673.4L1171.4 724.5L1171.8 691.5L1172.1 805.7L1172.4 779.9L1172.7 989.4L1173.1 745.9L1173.4 695.5L1173.7 949.3L1174.1 742.1L1174.4 859.6L1174.7 685.1L1175.1 689.9"/>
<path d="M1175.7 734.8L1176.1 687.8L1176.4 867.7L1176.8 812.5L1177.1 804.0L1177.4 1030.3L1177.8 800.0L1178.1 651.8L1178.5 734.3L1178.8 654.1L1179.1 691.0L1179.5 675.8L1179.8 772.3L1180.2 708.7L1180.5 625.6L1180.9 658.0L1181.2 751.3L1181.6 903.9L1181.9 963.0L1182.2 760.9L1182.6 740.6"/>
<path d="M1183.3 764.0L1183.7 750.6L1184.0 755.5L1184.4 877.0L1184.7 611.6L1185.1 703.3L1185.4 1227.2L1185.8 915.6L1186.1 710.0L1186.5 736.3L1186.8 777.9L1187.2 798.2L1187.6 824.7L1187.9 864.5L1188.3 1020.3L1188.6 732.6"/>
<path d="M1189.4 930.3L1189.7 679.1L1190.1 948.0L1190.5 1126.0L1190.8 637.5L1191.2 695.5L1191.6 823.0L1191.9 903.5L1192.3 837.2L1192.7 857.6L1193.0 840.2L1193.4 946.4L1193.8 741.9L1194.2 902.7"/>
<path d="M1194.9 1280.0L1195.3 807.3L1195.6 1060.0"/>
<path d="M1196.4 666.0L1196.8 750.0L1197.2 892.8L1197.5 904.3L1197.9 749.7L1198.3 676.3L1198.7 932.0L1199.1 761.8L1199.4 934.5L1199.8 772.3L1200.2 1173.8"/>
<path d="M1201.0 803.9L1201.4 826.2L1201.8 732.2L1202.1 953.5L1202.5 678.7L1202.9 804.6L1203.3 666.9L1203.7 877.4L1204.1 669.6L1204.5 829.6L1204.9 800.0L1205.3 712.1"/>
<path d="M1206.1 1151.7L1206.5 648.8"/>
<path d="M1207.3 917.3L1207.7 753.7L1208.1 674.2L1208.5 921.0L1208.9 804.6L1209.3 1235.2L1209.7 893.9L1210.1 708.9L1210.5 779.9L1210.9 829.8L1211.3 768.5L1211.7 805.1L1212.1 800.9L1212.5 889.6L1212.9 1114.4L1213.3 742.2L1213.7 1296.3L1214.2 710.4L1214.6 632.6L1215.0 671.9L1215.4 622.0L1215.8 1171.9L1216.2 792.8L1216.7 1039.1L1217.1 1002.9L1217.5 1600.0L1217.9 1509.0L1218.3 725.9L1218.8 741.1L1219.2 695.8L1219.6 702.1L1220.0 732.8L1220.4 1031.7L1220.9 847.7L1221.3 737.7L1221.7 692.2L1222.2 899.2L1222.6 928.3L1223.0 914.2L1223.4 666.8L1223.9 755.5L1224.3 887.3L1224.7 1019.4L1225.2 770.4"/>
<path d="M1226.0 870.3L1226.5 952.3L1226.9 957.2L1227.4 800.9L1227.8 773.8L1228.2 601.2L1228.7 815.5L1229.1 742.9L1229.6 1042.4"/>
<path d="M1230.5 702.0L1230.9 643.4L1231.3 1168.2L1231.8 844.6L1232.2 704.8L1232.7 818.1"/>
<path d="M1233.6 713.8L1234.0 858.2L1234.5 741.2L1234.9 1151.1L1235.4 726.1L1235.9 712.1L1236.3 1017.0L1236.8 767.6L1237.2 986.0L1237.7 944.9L1238.2 1121.5L1238.6 926.9L1239.1 1005.4L1239.5 702.0L1240.0 880.4L1240.5 1470.6L1240.9 686.6L1241.4 764.3L1241.9 718.8L1242.3 851.2L1242.8 747.8L1243.3 857.9L1243.7 1182.2L1244.2 823.7L1244.7 818.1L1245.2 819.6L1245.6 733.8"/>
<path d="M1246.6 797.2L1247.1 1077.0L1247.5 898.2L1248.0 778.1L1248.5 832.2L1249.0 1017.9L1249.5 743.1L1250.0 853.4L1250.4 725.5L1250.9 699.0L1251.4 917.7L1251.9 1504.4L1252.4 830.3L1252.9 737.5L1253.4 795.5"/>
<path d="M1254.8 1198.8L1255.3 1210.6L1255.8 758.9L1256.3 835.3L1256.8 732.7L1257.3 862.1L1257.8 666.4L1258.3 844.9L1258.8 767.7L1259.3 937.8L1259.8 781.0L1260.3 713.4L1260.8 743.6L1261.4 697.2L1261.9 1004.9L1262.4 780.7L1262.9 664.7L1263.4 808.6L1263.9 881.4L1264.4 896.4L1264.9 979.1L1265.4 826.1L1266.0 689.0L1266.5 782.9L1267.0 856.5L1267.5 1113.1"/>
<path d="M1268.6 623.2L1269.1 967.3L1269.6 837.0L1270.1 974.7L1270.6 826.9L1271.2 958.5L1271.7 838.2L1272.2 687.0L1272.8 1100.0L1273.3 778.6L1273.8 873.6L1274.4 756.8L1274.9 1075.2L1275.4 796.8L1276.0 1513.1"/>
<path d="M1277.6 1465.1L1278.1 1600.0L1278.6 948.9L1279.2 722.6"/>
<path d="M1280.3 798.5L1280.8 845.8L1281.4 1139.2L1281.9 1600.0L1282.5 803.8L1283.0 797.0L1283.6 969.4L1284.1 913.7L1284.7 882.0L1285.2 1600.0L1285.8 859.6L1286.3 825.6L1286.9 672.4"/>
<path d="M1288.0 1466.1L1288.6 866.8L1289.1 1087.9L1289.7 1001.8L1290.3 884.2L1290.8 963.9L1291.4 894.4L1292.0 808.8"/>
<path d="M1294.2 678.4L1294.8 748.7L1295.4 1118.3L1296.0 739.2L1296.5 926.4L1297.1 811.9L1297.7 768.8L1298.3 825.6L1298.9 891.2L1299.4 786.2L1300.0 940.6L1300.6 1004.0"/>
<path d="M1302.4 688.8L1303.0 767.3L1303.6 1600.0L1304.1 820.2L1304.7 852.4"/>
<path d="M1305.9 1600.0L1306.5 922.2L1307.1 679.0L1307.7 733.8L1308.3 718.0L1308.9 835.0L1309.5 744.2"/>
<path d="M1310.7 790.3L1311.3 775.7"/>
<path d="M1312.6 847.7L1313.2 695.2L1313.8 664.1L1314.4 704.3L1315.0 1272.6L1315.6 923.3L1316.2 1093.4L1316.9 721.5"/>
<path d="M1319.3 860.0L1320.0 818.7L1320.6 1163.8L1321.2 1424.0L1321.8 955.2L1322.5 711.6"/>
<path d="M1323.7 915.3L1324.4 859.6L1325.0 830.2L1325.6 720.2L1326.3 766.1L1326.9 848.4L1327.5 701.6L1328.2 731.8L1328.8 846.2L1329.5 856.5"/>
<path d="M1330.7 878.8L1331.4 1600.0"/>
<path d="M1334.6 1133.1L1335.3 843.0L1336.0 1024.4L1336.6 834.0L1337.3 694.2L1337.9 772.8"/>
<path d="M1343.3 1337.1L1343.9 712.9L1344.6 688.8"/>
<path d="M1345.9 1177.7L1346.6 1600.0"/>
<path d="M1348.0 974.8L1348.7 939.2"/>
<path d="M1350.0 818.0L1350.7 1122.6L1351.4 757.3L1352.1 1348.8L1352.7 788.4L1353.4 1053.5L1354.1 930.9L1354.8 825.0"/>
<path d="M1356.8 1001.0L1357.5 1112.9L1358.2 900.7"/>
<path d="M1360.2 1022.3L1360.9 896.2"/>
<path d="M1362.3 748.7L1362.9 818.2L1363.6 794.7L1364.3 804.1"/>
<path d="M1367.0 872.3L1367.7 808.9L1368.4 878.6L1369.0 911.6"/>
<path d="M1370.4 1183.9L1371.1 950.9L1371.8 732.6"/>
<path d="M1373.1 808.0L1373.8 849.5L1374.5 928.3L1375.2 1376.8L1375.8 1000.7"/>
<path d="M1377.2 917.3L1377.9 865.6L1378.6 1262.6L1379.2 827.1L1379.9 865.2"/>
<path d="M1381.3 779.6L1382.0 1265.6L1382.6 637.9"/>
<path d="M1384.0 1600.0L1384.7 1600.0L1385.4 880.9L1386.0 741.4L1386.7 917.0L1387.4 1131.7L1388.1 674.4L1388.8 758.2L1389.4 1058.6L1390.1 985.1L1390.8 1600.0L1391.5 937.6L1392.2 690.5"/>
<path d="M1397.6 1023.7L1398.3 744.3L1399.0 863.7"/>
<path d="M1400.3 1600.0L1401.0 912.1"/>
<path d="M1402.4 1132.9L1403.0 1600.0L1403.7 802.4L1404.4 750.7"/>
<path d="M1405.8 870.4L1406.4 831.4"/>
<path d="M1409.1 1243.2L1409.8 881.5L1410.5 740.4L1411.2 730.2L1411.9 1189.0L1412.5 1600.0L1413.2 783.0L1413.9 1600.0"/>
<path d="M1415.3 839.7L1415.9 663.7"/>
<path d="M1418.7 1052.3L1419.3 1054.3"/>
<path d="M1420.7 892.9L1421.4 1112.2L1422.1 867.6L1422.7 1135.9"/>
<path d="M1424.1 962.8L1424.8 805.6"/>
<path d="M1426.1 743.3L1426.8 879.0L1427.5 1339.1L1428.2 1001.5L1428.9 1575.3"/>
<path d="M1430.2 796.4L1430.9 798.7"/>
<path d="M1432.3 1122.6L1432.9 1144.0L1433.6 831.9L1434.3 730.2"/>
<path d="M1435.7 914.2L1436.3 1028.0L1437.0 857.3L1437.7 732.5"/>
<path d="M1439.1 1600.0L1439.7 1114.3"/>
<path d="M1442.5 1221.5L1443.1 932.5L1443.8 943.0L1444.5 1600.0L1445.2 1019.9L1445.9 792.9L1446.5 1261.0L1447.2 693.9L1447.9 902.7"/>
<path d="M1450.6 907.6L1451.3 661.6L1452.0 775.1L1452.6 1600.0"/>
<path d="M1454.0 1012.4L1454.7 731.8"/>
<path d="M1456.0 771.7L1456.7 916.1L1457.4 1075.2L1458.1 1118.6L1458.8 709.5"/>
<path d="M1460.8 801.3L1461.5 788.0"/>
<path d="M1462.8 1600.0L1463.5 1600.0L1464.2 862.9"/>
<path d="M1465.6 736.4L1466.2 823.2L1466.9 932.8L1467.6 953.1L1468.3 866.1L1469.0 812.0L1469.6 1027.9L1470.3 937.7L1471.0 821.9L1471.7 1073.4L1472.4 790.1L1473.0 1121.1"/>
<path d="M1474.4 962.5L1475.1 715.0L1475.8 730.9"/>
<path d="M1478.5 1425.5L1479.2 1523.7L1479.8 1236.0"/>
<path d="M1481.2 1324.5L1481.9 960.0"/>
<path d="M1486.6 1111.7L1487.3 1029.1L1488.0 843.4L1488.7 1048.1L1489.4 789.2L1490.0 1100.7L1490.7 958.1L1491.4 836.3"/>
<path d="M1492.7 917.4L1493.4 734.4L1494.1 1012.1L1494.8 1315.6L1495.5 696.9L1496.1 1016.1L1496.8 766.9L1497.5 1600.0L1498.2 1017.6"/>
<path d="M1499.5 921.3L1500.2 773.9L1500.9 1191.1L1501.6 1297.8"/>
<path d="M1502.9 834.1L1503.6 756.2L1504.3 1001.5"/>
<path d="M1505.7 928.6L1506.3 795.3L1507.0 861.6L1507.7 682.9"/>
<path d="M1509.1 1600.0L1509.7 897.0L1510.4 764.3"/>
<path d="M1514.5 1600.0L1515.2 962.1L1515.9 906.8L1516.5 820.6"/>
<path d="M1519.9 821.4L1520.6 632.3"/>
<path d="M1524.0 881.9L1524.7 1600.0"/>
<path d="M1526.1 820.4L1526.7 1531.9"/>
<path d="M1528.1 834.8L1528.8 1086.2"/>
<path d="M1532.2 1035.1L1532.9 806.1L1533.5 1204.0L1534.2 793.2"/>
<path d="M1535.6 879.0L1536.2 896.9L1536.9 704.1L1537.6 1094.9L1538.3 824.0L1539.0 1281.8L1539.6 1600.0"/>
<path d="M1541.7 845.4L1542.4 1600.0L1543.0 1084.9L1543.7 824.0L1544.4 773.5L1545.1 817.8L1545.8 743.3"/>
<path d="M1547.8 961.0L1548.5 791.2L1549.2 906.8"/>
<path d="M1550.5 1371.7L1551.2 1600.0L1551.9 841.5"/>
<path d="M1553.2 1001.1L1553.9 797.5L1554.6 825.0"/>
<path d="M1558.0 728.3L1558.7 975.7"/>
<path d="M1560.7 862.3L1561.4 1001.2L1562.1 1600.0"/>
<path d="M1564.1 1600.0L1564.8 843.2"/>
<path d="M1566.2 873.9L1566.8 781.5"/>
<path d="M1568.9 740.5L1569.6 1600.0L1570.2 1163.1L1570.9 820.3"/>
<path d="M1572.3 1600.0L1573.0 1600.0L1573.6 906.7"/>
<path d="M1576.4 823.4L1577.0 876.9"/>
<path d="M1579.7 1278.2L1580.4 1600.0L1581.1 643.6L1581.8 1600.0"/>
<path d="M1583.8 859.1L1584.5 854.4L1585.2 971.3"/>
<path d="M1586.5 689.4L1587.2 1600.0L1587.9 1003.5L1588.6 726.5L1589.3 1600.0"/>
<path d="M1590.6 809.1L1591.3 953.2"/>
<path d="M1592.7 1195.0L1593.3 710.0"/>
<path d="M1594.7 863.9L1595.4 1113.9"/>
<path d="M1596.7 742.6L1597.4 833.1L1598.1 796.4"/>
<path d="M1599.5 1139.5L1600.1 1056.9L1600.8 961.4"/>
<path d="M1609.0 1600.0L1609.7 738.8"/>
<path d="M1611.0 825.4L1611.7 1004.5"/>
<path d="M1614.4 786.1L1615.1 847.9"/>
<path d="M1620.5 999.1L1621.2 833.7L1621.9 1164.0L1622.6 963.7L1623.2 1600.0L1623.9 827.0L1624.6 870.6L1625.3 748.7L1626.0 775.8"/>
<path d="M1628.0 912.7L1628.7 810.0"/>
<path d="M1630.0 760.4L1630.7 1182.5"/>
<path d="M1635.5 1424.6L1636.2 1392.1L1636.8 1600.0"/>
<path d="M1640.9 1600.0L1641.6 822.1L1642.3 829.0"/>
<path d="M1644.3 781.5L1645.0 809.7L1645.7 1571.9L1646.4 871.7L1647.0 1242.1"/>
<path d="M1652.5 996.4L1653.2 859.5L1653.8 1008.4"/>
<path d="M1657.9 888.1L1658.6 918.8L1659.3 957.2L1660.0 784.9L1660.6 874.4"/>
<path d="M1662.0 892.0L1662.7 1600.0L1663.3 1017.6L1664.0 943.5"/>
<path d="M1670.1 915.8L1670.8 884.2L1671.5 1014.3L1672.2 1600.0L1672.9 713.3L1673.5 913.2L1674.2 1327.6L1674.9 872.9L1675.6 1600.0L1676.3 902.2L1676.9 1055.5L1677.6 947.9L1678.3 1236.4"/>
<path d="M1679.7 956.0L1680.3 815.5"/>
<path d="M1684.4 856.8L1685.1 1600.0L1685.8 869.8L1686.5 1600.0"/>
<path d="M1689.9 855.3L1690.5 1553.8L1691.2 795.8L1691.9 662.5"/>
<path d="M1693.3 1600.0L1693.9 1600.0"/>
<path d="M1695.3 924.4L1696.0 1035.9L1696.7 1047.3L1697.3 968.7"/>
<path d="M1699.4 820.5L1700.1 1064.0L1700.7 812.1L1701.4 1393.6L1702.1 884.1L1702.8 1600.0L1703.5 1325.9"/>
<path d="M1704.8 1002.5L1705.5 773.7L1706.2 911.8"/>
<path d="M1708.2 1300.5L1708.9 873.5L1709.6 1137.2"/>
<path d="M1713.0 770.5L1713.6 923.7L1714.3 1226.3L1715.0 840.3L1715.7 692.9"/>
<path d="M1720.4 961.2L1721.1 971.4L1721.8 858.7"/>
<path d="M1725.2 788.1L1725.9 796.0L1726.6 818.7L1727.2 696.4L1727.9 825.6"/>
<path d="M1734.0 664.8L1734.7 853.0"/>
<path d="M1738.8 1077.5L1739.5 926.8L1740.2 814.4"/>
<path d="M1741.5 1420.6L1742.2 902.9L1742.9 937.0L1743.6 990.3L1744.2 1163.5L1744.9 793.9"/>
<path d="M1746.9 730.9L1747.6 976.3L1748.3 812.1L1749.0 1064.2"/>
<path d="M1752.4 1438.2L1753.1 1484.3L1753.7 863.0L1754.4 868.2L1755.1 744.2"/>
<path d="M1756.5 1320.4L1757.1 833.6L1757.8 992.6"/>
<path d="M1759.2 985.8L1759.9 1242.8"/>
<path d="M1762.6 797.3L1763.3 885.3L1763.9 1046.3L1764.6 803.1L1765.3 833.1"/>
<path d="M1768.0 867.1L1768.7 1212.8L1769.4 786.7L1770.1 920.4"/>
<path d="M1775.5 765.3L1776.2 1218.5"/>
<path d="M1778.2 1406.9L1778.9 1105.8L1779.6 814.2L1780.3 657.3L1780.9 764.7L1781.6 888.0L1782.3 1196.8"/>
<path d="M1783.7 902.7L1784.3 775.6L1785.0 848.3L1785.7 1386.8L1786.4 881.3"/>
<path d="M1789.1 1114.6L1789.8 1292.2L1790.4 816.6L1791.1 1183.4L1791.8 1337.8L1792.5 812.8L1793.2 880.4L1793.8 799.9"/>
<path d="M1795.2 774.5L1795.9 1209.6"/>
<path d="M1797.2 1600.0L1797.9 1600.0"/>
<path d="M1802.7 748.5L1803.4 1068.3L1804.0 912.0L1804.7 767.4"/>
<path d="M1808.1 1011.0L1808.8 1600.0L1809.5 980.1"/>
<path d="M1819.7 1002.3L1820.4 1600.0L1821.0 1037.4"/>
<path d="M1823.1 1600.0L1823.8 913.8"/>
<path d="M1827.2 808.7L1827.8 1600.0"/>
<path d="M1829.2 967.9L1829.9 1406.8"/>
<path d="M1832.6 959.5L1833.3 726.2L1833.9 1084.6"/>
<path d="M1835.3 791.6L1836.0 671.0L1836.7 957.1"/>
<path d="M1839.4 1157.8L1840.1 817.9L1840.7 957.8"/>
<path d="M1848.9 884.8L1849.6 919.2L1850.3 966.2L1850.9 783.0L1851.6 749.3L1852.3 1600.0"/>
<path d="M1853.7 839.3L1854.3 1177.7"/>
<path d="M1857.7 1600.0L1858.4 1198.6L1859.1 728.5L1859.8 904.7L1860.5 913.7L1861.1 1145.9"/>
<path d="M1862.5 973.4L1863.2 1297.6L1863.9 1600.0L1864.5 1094.3"/>
<path d="M1865.9 1187.6L1866.6 922.1L1867.3 843.0L1867.9 1175.1L1868.6 880.3L1869.3 1139.4L1870.0 1600.0"/>
<path d="M1876.8 1576.1L1877.4 1235.6"/>
<path d="M1878.8 1148.4L1879.5 956.7"/>
<path d="M1883.6 1248.9L1884.2 652.7L1884.9 819.1L1885.6 1320.3L1886.3 935.1L1887.0 936.5L1887.6 795.6L1888.3 772.9L1889.0 1600.0L1889.7 687.1"/>
<path d="M1893.8 709.2L1894.4 762.5"/>
<path d="M1897.8 969.7L1898.5 702.2L1899.2 882.2L1899.9 760.6L1900.6 1080.4"/>
<path d="M1906.0 1600.0L1906.7 955.2L1907.4 1600.0L1908.0 1600.0L1908.7 837.5L1909.4 1555.0L1910.1 1600.0L1910.8 805.7"/>
<path d="M1912.1 1092.6L1912.8 955.1L1913.5 1600.0"/>
<path d="M1921.6 1420.0L1922.3 1355.4L1923.0 699.9"/>
<path d="M1924.3 783.6L1925.0 862.8L1925.7 768.3"/>
<path d="M1928.4 1043.5L1929.1 843.7L1929.8 742.1"/>
<path d="M1931.1 823.1L1931.8 1008.6L1932.5 1267.6"/>
<path d="M1939.3 867.2L1940.0 989.4L1940.7 752.1L1941.3 1040.5"/>
<path d="M1944.1 740.6L1944.7 1600.0"/>
<path d="M1946.8 863.0L1947.5 1600.0L1948.1 723.2L1948.8 928.8L1949.5 893.6L1950.2 1396.0L1950.9 706.9"/>
<path d="M1952.2 871.0L1952.9 1189.5"/>
<path d="M1954.3 1600.0L1954.9 894.3"/>
<path d="M1960.4 934.8L1961.0 895.1L1961.7 786.5L1962.4 838.2"/>
<path d="M1965.1 983.5L1965.8 1600.0L1966.5 777.2"/>
<path d="M1969.2 919.2L1969.9 915.8L1970.6 1600.0L1971.2 707.7L1971.9 959.6"/>
<path d="M1976.7 1006.9L1977.4 1600.0"/>
<path d="M1978.7 733.9L1979.4 1600.0L1980.1 1583.8L1980.8 795.3"/>
<path d="M1984.2 1179.4L1984.8 1385.6"/>
<path d="M1986.2 1099.5L1986.9 930.0L1987.6 919.7L1988.2 1323.4"/>
<path d="M1989.6 907.5L1990.3 866.9"/>
<path d="M1993.0 834.9L1993.7 864.9"/>
<path d="M1997.8 846.2L1998.4 970.3"/>
<path d="M1999.8 906.6L2000.5 1600.0"/>
<path d="M2003.2 856.8L2003.9 856.2L2004.5 1600.0L2005.2 1600.0L2005.9 992.4L2006.6 1087.8L2007.3 933.3L2007.9 1600.0"/>
<path d="M2012.7 1600.0L2013.4 1600.0L2014.1 954.3"/>
<path d="M2017.5 1600.0L2018.1 1032.9L2018.8 945.9L2019.5 1600.0"/>
<path d="M2027.7 735.4L2028.3 1212.6L2029.0 786.0L2029.7 1004.4"/>
<path d="M2032.4 966.6L2033.1 1600.0L2033.8 1116.4L2034.5 1135.9"/>
<path d="M2039.9 1103.0L2040.6 844.9"/>
<path d="M2042.6 912.8L2043.3 980.9L2044.0 1600.0"/>
<path d="M2050.1 1066.8L2050.8 921.4L2051.4 694.8L2052.1 1600.0L2052.8 754.0"/>
<path d="M2056.2 1060.8L2056.9 717.0L2057.6 696.3L2058.2 919.6L2058.9 1600.0L2059.6 1600.0L2060.3 941.3L2061.0 950.9L2061.6 954.4"/>
<path d="M2063.7 995.8L2064.4 1600.0L2065.0 773.7"/>
<path d="M2066.4 873.2L2067.1 781.4L2067.8 707.4L2068.4 709.0"/>
<path d="M2069.8 1600.0L2070.5 1200.5"/>
<path d="M2072.5 763.8L2073.2 972.5L2073.9 833.0L2074.6 1152.1L2075.2 807.6L2075.9 1086.3L2076.6 1191.7L2077.3 711.2"/>
<path d="M2080.0 759.2L2080.7 1600.0"/>
<path d="M2083.4 706.1L2084.1 972.3"/>
<path d="M2088.1 1212.6L2088.8 944.3L2089.5 749.4"/>
<path d="M2092.9 1038.0L2093.6 1173.8L2094.3 842.8"/>
<path d="M2096.3 1083.1L2097.0 989.2"/>
<path d="M2100.4 677.8L2101.1 906.0L2101.7 796.2"/>
<path d="M2103.1 1331.5L2103.8 1259.6L2104.5 828.1"/>
<path d="M2107.2 839.9L2107.9 1100.0"/>
<path d="M2109.2 748.7L2109.9 843.2"/>
</g>
<path fill="none" stroke="#d0d0d0" stroke-width="5.2" stroke-linejoin="round" stroke-linecap="round" d="M413.7 89.0L414.1 92.1L414.4 91.0L414.8 92.9L415.1 96.2L415.4 95.2L415.8 96.7L416.1 96.7L416.5 99.6L416.8 98.3L417.1 99.1L417.5 98.3L417.8 100.6L418.2 101.2L418.5 104.6L418.8 100.7L419.2 106.8L419.5 103.8L419.9 106.4L420.2 108.0L420.5 108.5L420.9 109.4L421.2 108.8L421.6 110.3L421.9 108.9L422.2 114.4L422.6 112.6L422.9 114.8L423.3 113.2L423.6 118.3L423.9 116.5L424.3 116.5L424.6 119.9L425.0 116.9L425.3 119.0L425.6 118.5L426.0 119.4L426.3 123.4L426.7 123.9L427.0 123.8L427.3 123.0L427.7 123.6L428.0 127.2L428.4 127.8L428.7 129.0L429.0 129.5L429.4 129.7L429.7 130.3L430.1 127.1L430.4 132.7L430.7 133.1L431.1 132.5L431.4 136.1L431.8 135.8L432.1 135.8L432.4 135.1L432.8 140.2L433.1 135.5L433.5 139.9L433.8 139.7L434.1 139.0L434.5 140.3L434.8 140.2L435.2 143.0L435.5 144.2L435.8 144.3L436.2 148.1L436.5 143.9L436.9 149.3L437.2 151.3L437.5 144.3L437.9 150.3L438.2 153.7L438.6 147.2L438.9 153.3L439.2 150.7L439.6 156.2L439.9 155.6L440.3 160.1L440.6 161.5L440.9 159.9L441.3 158.5L441.6 157.1L442.0 153.7L442.3 163.5L442.6 159.0L443.0 164.0L443.3 163.7L443.7 168.1L444.0 168.9L444.3 167.9L444.7 169.8L445.0 167.4L445.4 170.2L445.7 165.6L446.0 169.5L446.4 170.3L446.7 168.4L447.1 170.9L447.4 173.3L447.7 174.3L448.1 175.2L448.4 172.6L448.8 174.2L449.1 176.3L449.4 175.8L449.8 180.6L450.1 178.3L450.5 185.0L450.8 177.5L451.1 182.1L451.5 182.6L451.8 182.1L452.2 184.8L452.5 186.4L452.8 182.8L453.2 186.9L453.5 191.1L453.9 187.6L454.2 195.4L454.5 185.3L454.9 192.0L455.2 192.1L455.5 185.8L455.9 186.9L456.2 194.4L456.6 193.5L456.9 192.8L457.2 191.6L457.6 198.5L457.9 198.5L458.3 195.6L458.6 199.6L458.9 198.8L459.3 200.1L459.6 207.1L460.0 207.0L460.3 214.3L460.6 206.5L461.0 201.6L461.3 211.3L461.7 203.6L462.0 205.2L462.3 209.9L462.7 210.6L463.0 211.1L463.4 215.5L463.7 214.1L464.0 214.0L464.4 212.3L464.7 212.5L465.1 219.3L465.4 214.0L465.7 221.1L466.1 219.5L466.4 218.2L466.8 220.6L467.1 221.8L467.4 221.1L467.8 225.2L468.1 226.5L468.5 225.5L468.8 221.5L469.1 226.7L469.5 219.3L469.8 227.1L470.2 240.1L470.5 231.5L470.8 223.4L471.2 231.2L471.5 234.0L471.9 236.8L472.2 228.0L472.5 230.2L472.9 232.5L473.2 234.3L473.6 230.7L473.9 234.2L474.2 244.4L474.6 236.1L474.9 239.6L475.3 241.7L475.6 238.5L475.9 242.8L476.3 256.4L476.6 237.3L477.0 240.5L477.3 246.8L477.6 248.8L478.0 246.8L478.3 255.1L478.7 248.0L479.0 251.5L479.3 252.9L479.7 256.7L480.0 256.3L480.4 248.2L480.7 247.8L481.0 252.8L481.4 256.4L481.7 261.6L482.1 254.1L482.4 250.4L482.7 268.2L483.1 254.2L483.4 273.0L483.8 263.8L484.1 260.7L484.4 271.2L484.8 272.9L485.1 264.3L485.5 261.3L485.8 269.6L486.1 260.4L486.5 273.0L486.8 259.8L487.2 269.6L487.5 269.8L487.8 268.4L488.2 270.9L488.5 263.2L488.9 262.0L489.2 272.1L489.5 277.0L489.9 284.0L490.2 282.3L490.6 278.5L490.9 280.0L491.2 280.5L491.6 281.0L491.9 278.9L492.3 291.2L492.6 290.0L492.9 277.5L493.3 280.0L493.6 289.4L494.0 278.8L494.3 292.1L494.6 290.1L495.0 301.5L495.3 284.7L495.7 291.1L496.0 284.9L496.3 288.0L496.7 292.8L497.0 293.2L497.4 287.2L497.7 297.0L498.0 297.8L498.4 297.1L498.7 292.9L499.0 292.9L499.4 287.2L499.7 301.4L500.1 293.0L500.4 307.1L500.7 299.0L501.1 303.1L501.4 292.9L501.8 301.4L502.1 309.7L502.4 303.2L502.8 305.6L503.1 311.2L503.5 311.9L503.8 317.6L504.1 293.4L504.5 311.2L504.8 305.9L505.2 322.8L505.5 323.0L505.8 316.7L506.2 317.5L506.5 311.2L506.9 325.8L507.2 314.7L507.5 308.3L507.9 327.7L508.2 314.3L508.6 329.8L508.9 320.3L509.2 320.9L509.6 311.3L509.9 331.0L510.3 324.9L510.6 318.9L510.9 337.6L511.3 328.8L511.6 336.8L512.0 336.2L512.3 325.7L512.6 326.3L513.0 312.8L513.3 322.5L513.7 324.0L514.0 336.8L514.3 338.8L514.7 335.9L515.0 358.4L515.4 325.0L515.7 345.4L516.0 349.8L516.4 345.3L516.7 334.6L517.1 332.3L517.4 347.1L517.7 340.8L518.1 345.9L518.4 355.4L518.8 345.6L519.1 347.7L519.4 363.3L519.8 339.8L520.1 365.4L520.5 349.2L520.8 362.1L521.1 360.7L521.5 360.5L521.8 348.1L522.2 367.7L522.5 358.1L522.8 342.9L523.2 364.8L523.5 359.1L523.9 353.4L524.2 366.2L524.5 356.8L524.9 368.8L525.2 356.2L525.6 363.2L525.9 374.2L526.2 351.9L526.6 367.3L526.9 370.0L527.3 377.6L527.6 373.7L527.9 370.6L528.3 368.7L528.6 360.3L529.0 386.3L529.3 376.6L529.6 361.7L530.0 372.7L530.3 371.2L530.7 360.1L531.0 373.6L531.3 373.0L531.7 379.2L532.0 361.4L532.4 369.4L532.7 389.3L533.0 376.2L533.4 396.0L533.7 372.1L534.1 377.3L534.4 387.3L534.7 390.9L535.1 408.5L535.4 379.5L535.8 390.2L536.1 393.2L536.4 382.4L536.8 399.1L537.1 399.1L537.5 401.3L537.8 410.3L538.1 368.2L538.5 397.8L538.8 400.6L539.2 386.8L539.5 431.9L539.8 399.2L540.2 399.6L540.5 412.7L540.8 395.9L541.2 428.8L541.5 403.1L541.9 393.5L542.2 434.9L542.5 425.0L542.9 409.0L543.2 408.2L543.6 417.4L543.9 405.4L544.2 407.9L544.6 430.2L544.9 414.2L545.3 431.3L545.6 444.1L545.9 450.4L546.3 403.5L546.6 419.3L547.0 393.8L547.3 440.1L547.6 425.1L548.0 416.5L548.3 423.9L548.7 416.0L549.0 421.6L549.3 433.1L549.7 460.6L550.0 439.8L550.4 404.0L550.7 417.1L551.0 409.8L551.4 437.7L551.7 432.7L552.1 443.8L552.4 426.0L552.7 431.4L553.1 426.6L553.4 409.7L553.8 447.4L554.1 425.0L554.4 458.3L554.8 421.4L555.1 444.7L555.5 439.9L555.8 437.6L556.1 417.0L556.5 441.8L556.8 449.9L557.2 462.1L557.5 439.6L557.8 458.4L558.2 453.5L558.5 446.8L558.9 436.9L559.2 459.7L559.5 438.5L559.9 423.3L560.2 476.0L560.6 430.6L560.9 420.2L561.2 462.9L561.6 444.1L561.9 478.7L562.3 450.0L562.6 461.9L562.9 452.2L563.3 474.1L563.6 473.3L564.0 467.5L564.3 473.2L564.6 472.4L565.0 466.0L565.3 483.5L565.7 466.8L566.0 456.9L566.3 511.2L566.7 463.5L567.0 481.4L567.4 489.6L567.7 495.1L568.0 486.3L568.4 485.3L568.7 466.1L569.1 497.5L569.4 455.8L569.7 490.5L570.1 463.4L570.4 457.3L570.8 501.4L571.1 459.0L571.4 441.4L571.8 487.7L572.1 469.1L572.5 482.9L572.8 479.6L573.1 485.4L573.5 492.3L573.8 469.7L574.2 467.5L574.5 484.5L574.8 457.8L575.2 465.8L575.5 473.4L575.9 502.1L576.2 453.8L576.5 464.3L576.9 538.1L577.2 514.1L577.6 501.2L577.9 474.0L578.2 469.1L578.6 499.7L578.9 489.5L579.3 481.5L579.6 524.4L579.9 485.0L580.3 504.2L580.6 494.7L581.0 500.3L581.3 526.8L581.6 523.3L582.0 500.9L582.3 499.8L582.7 509.1L583.0 482.5L583.3 513.0L583.7 534.4L584.0 514.4L584.3 511.4L584.7 511.3L585.0 484.9L585.4 498.9L585.7 488.5L586.0 498.1L586.4 516.2L586.7 491.0L587.1 520.2L587.4 509.3L587.7 540.3L588.1 514.2L588.4 525.1L588.8 509.7L589.1 480.4L589.4 470.6L589.8 497.9L590.1 522.1L590.5 503.5L590.8 517.7L591.1 539.1L591.5 526.3L591.8 531.7L592.2 541.7L592.5 495.9L592.8 541.8L593.2 541.6L593.5 512.9L593.9 548.7L594.2 562.6L594.5 554.9L594.9 521.1L595.2 524.4L595.6 527.1L595.9 547.8L596.2 561.4L596.6 514.9L596.9 579.7L597.3 544.4L597.6 577.9L597.9 551.4L598.3 545.3L598.6 511.7L599.0 629.3L599.3 509.9L599.6 569.9L600.0 537.3L600.3 525.2L600.7 568.9L601.0 550.0L601.3 535.2L601.7 552.7L602.0 571.7L602.4 545.6L602.7 548.6L603.0 600.1L603.4 518.0L603.7 547.7L604.1 640.3L604.4 581.1L604.7 512.1L605.1 515.8L605.4 550.3L605.8 615.6L606.1 566.7L606.4 531.4L606.8 549.9L607.1 572.2L607.5 586.2L607.8 540.2L608.1 571.0L608.5 555.7L608.8 551.6L609.2 522.1L609.5 562.1L609.8 560.6L610.2 634.5L610.5 538.2L610.9 544.9L611.2 572.2L611.5 661.9L611.9 592.2L612.2 571.8L612.6 517.2L612.9 557.7L613.2 552.6L613.6 552.5L613.9 539.0L614.3 620.5L614.6 610.3L614.9 624.5L615.3 591.5L615.6 594.8L616.0 580.0L616.3 622.4L616.6 582.0L617.0 617.5L617.3 525.2L617.7 606.8L618.0 515.7L618.3 539.5L618.7 637.2L619.0 560.0L619.4 571.6L619.7 656.2L620.0 573.0L620.4 597.6L620.7 583.1L621.1 629.5L621.4 599.1L621.7 583.2L622.1 605.3L622.4 623.1L622.8 606.1L623.1 641.2L623.4 589.5L623.8 733.9L624.1 553.8L624.5 602.0L624.8 588.0L625.1 575.9L625.5 661.3L625.8 535.2L626.1 657.4L626.5 592.0L626.8 597.9L627.2 565.3L627.5 612.3L627.8 678.5L628.2 601.1L628.5 751.6L628.9 623.6L629.2 635.7L629.5 562.0L629.9 629.7L630.2 638.2L630.6 653.7L630.9 659.7L631.2 645.9L631.6 598.5L631.9 688.4L632.3 633.0L632.6 699.8L632.9 632.9L633.3 619.6L633.6 689.7L634.0 654.9L634.3 624.6L634.6 598.8L635.0 592.8L635.3 636.8L635.7 683.3L636.0 724.7L636.3 602.0L636.7 580.4L637.0 620.1L637.4 575.8L637.7 659.9L638.0 657.7L638.4 577.3L638.7 694.2L639.1 614.6L639.4 624.5L639.7 635.6L640.1 574.6L640.4 691.9L640.8 667.1L641.1 788.3L641.4 706.0L641.8 674.7L642.1 668.7L642.5 659.8L642.8 635.9L643.1 687.6L643.5 790.3L643.8 645.2L644.2 633.3L644.5 724.8L644.8 700.3L645.2 581.5L645.5 609.9L645.9 608.0L646.2 626.4L646.5 651.8L646.9 689.2L647.2 632.8L647.6 672.8L647.9 687.9L648.2 664.2L648.6 668.8L648.9 622.0L649.3 727.0L649.6 562.9L649.9 733.1L650.3 693.8L650.6 622.7L651.0 723.8L651.3 700.2L651.6 670.3L652.0 942.6L652.3 704.9L652.7 739.4L653.0 690.0L653.3 648.9L653.7 642.6L654.0 604.8L654.4 607.8L654.7 625.9L655.0 682.4L655.4 626.7L655.7 752.9L656.1 688.4L656.4 611.0L656.7 641.0L657.1 797.3L657.4 726.0L657.8 637.2L658.1 652.3L658.4 630.2L658.8 851.9L659.1 792.0L659.5 706.9L659.8 765.7L660.1 693.9L660.5 691.9L660.8 672.2L661.2 702.8L661.5 661.3L661.8 650.3L662.2 686.5L662.5 800.8L662.9 626.9L663.2 684.7L663.5 673.0L663.9 689.1L664.2 859.3L664.6 666.1L664.9 753.5L665.2 812.4L665.6 631.3L665.9 727.6L666.3 687.0L666.6 652.8L666.9 618.1L667.3 915.0L667.6 770.8L667.9 667.2L668.3 766.0L668.6 1301.0L669.0 702.7L669.3 698.0L669.7 663.7L670.0 699.2L670.4 751.9L670.8 701.9L671.1 720.7L671.5 761.1L671.9 701.4L672.3 695.5L672.6 819.8L673.0 656.4L673.4 668.3L673.8 671.4M674.6 717.5L675.0 737.5L675.4 830.1L675.8 687.9L676.2 917.6L676.6 651.0L677.1 703.5L677.5 780.0L677.9 642.7L678.4 700.8L678.8 710.8L679.2 897.2L679.7 699.0L680.1 646.7L680.6 664.3L681.0 906.1L681.5 649.6L682.0 639.1L682.4 683.0L682.9 784.8L683.4 974.0L683.9 855.9L684.4 812.6L684.8 729.3L685.3 709.0L685.8 840.7L686.4 1055.0L686.9 802.2L687.4 963.6L687.9 662.9L688.4 947.6L688.9 722.7L689.5 698.2L690.0 903.9L690.6 688.1L691.1 786.5L691.7 878.4L692.2 910.9L692.8 765.3L693.4 688.4M694.5 724.2L695.1 800.1L695.7 892.5L696.3 798.1L696.9 788.8L697.5 795.9L698.1 714.9L698.7 939.3L699.3 641.8L700.0 711.2L700.6 883.4M701.9 801.9L702.5 857.6L703.2 727.6L703.9 730.2L704.5 649.2L705.2 823.2L705.9 727.0L706.6 872.1L707.3 865.5L708.0 674.8L708.7 832.4L709.4 829.9L710.1 870.5L710.9 778.7L711.6 752.1L712.3 838.4L713.1 1142.7L713.8 782.0L714.6 1000.8L715.4 886.5L716.1 800.8L716.9 798.0M718.5 672.4L719.3 743.2L720.1 658.9L721.0 626.8L721.8 1109.7L722.6 963.8L723.5 811.9L724.3 737.8L725.2 962.8L726.0 916.8L726.9 729.2L727.8 1153.4L728.7 829.3L729.6 731.8L730.5 922.7L731.4 764.5L732.3 897.3M734.2 1030.2L735.1 928.6L736.1 969.8L737.1 885.8L738.0 825.6L739.0 844.6L740.0 866.2L741.0 1035.5L742.0 965.9L743.1 1025.5L744.1 1154.3L745.1 726.7M749.4 1255.7L750.5 796.3L751.6 1047.2L752.7 733.8M754.9 1078.3L756.1 1600.0L757.2 967.8L758.4 1119.5L759.5 1183.9L760.7 960.4L761.9 779.0L763.1 951.6L764.3 986.1L765.5 1180.7M778.2 876.2L779.5 944.8L780.8 978.0L782.0 733.1L783.3 684.9M790.9 815.0L792.2 1411.4M794.8 764.2L796.0 899.2L797.3 1102.7L798.6 722.4L799.9 900.3M805.0 984.2L806.2 819.0L807.5 833.7L808.8 1005.1M811.3 822.6L812.6 1020.0M816.4 982.8L817.7 947.6L819.0 849.1M824.1 1129.8L825.4 780.1L826.6 820.4M829.2 899.5L830.5 797.1L831.7 876.0M844.5 1049.1L845.7 799.8L847.0 1135.6L848.3 940.7L849.6 975.4M853.4 1179.9L854.7 966.2L855.9 724.3L857.2 764.3M863.6 806.0L864.9 959.3M867.4 1263.8L868.7 699.4L870.0 974.9L871.2 969.8L872.5 1098.6M880.2 919.7L881.4 754.7L882.7 945.9L884.0 887.6M887.8 716.0L889.1 912.9L890.4 827.2M899.3 1102.3L900.5 897.1L901.8 895.3M913.3 1421.1L914.6 874.7L915.8 904.1L917.1 1302.4L918.4 846.5L919.7 986.9L920.9 720.0L922.2 983.0M929.9 935.5L931.1 912.2L932.4 1314.4L933.7 1022.3M947.7 1114.9L949.0 1470.4M960.4 787.3L961.7 939.7L963.0 789.0L964.3 1240.1M974.5 1009.6L975.7 1270.0M978.3 855.5L979.6 945.5L980.8 892.4M983.4 1372.3L984.7 1600.0L985.9 835.1M988.5 935.8L989.8 819.2M993.6 810.3L994.9 1101.2L996.1 839.5L997.4 912.6L998.7 848.9M1010.1 893.6L1011.4 840.8L1012.7 1600.0L1014.0 1050.9L1015.2 1404.1M1017.8 788.8L1019.1 1600.0M1022.9 1188.5L1024.2 1263.0M1029.3 948.7L1030.5 760.0M1042.0 733.8L1043.3 866.2M1045.8 1377.4L1047.1 777.5M1052.2 894.0L1053.5 1116.3M1056.0 849.3L1057.3 969.7L1058.6 746.6M1066.2 1446.2L1067.5 811.4L1068.8 975.1L1070.0 1076.2L1071.3 1090.2L1072.6 1051.6L1073.9 940.6M1080.2 747.3L1081.5 1083.0L1082.8 691.2L1084.1 831.8L1085.3 1017.6L1086.6 878.0M1095.5 927.6L1096.8 1360.6M1103.2 941.7L1104.5 1600.0L1105.7 938.6M1115.9 887.6L1117.2 906.9L1118.5 855.3M1121.0 1087.5L1122.3 823.7L1123.6 1217.1M1127.4 909.8L1128.7 1220.6L1129.9 874.1M1136.3 1191.4L1137.6 1018.9L1138.9 824.8M1146.5 940.6L1147.8 830.3M1163.1 1040.2L1164.3 906.5L1165.6 1251.6L1166.9 1175.7M1172.0 821.3L1173.3 699.7L1174.5 1411.3L1175.8 966.2L1177.1 967.2M1182.2 1240.5L1183.5 907.5L1184.7 1293.4L1186.0 854.4M1200.0 966.9L1201.3 1057.6L1202.6 1026.7L1203.9 1600.0L1205.1 1600.0M1207.7 1100.3L1209.0 811.2L1210.2 918.4L1211.5 1061.4L1212.8 870.5L1214.0 815.2M1226.8 963.3L1228.1 692.1L1229.3 840.2M1237.0 975.8L1238.3 763.2L1239.5 782.0M1249.7 1061.3L1251.0 1075.8L1252.3 788.8L1253.6 787.7M1257.4 946.8L1258.7 913.2L1259.9 758.4M1263.8 787.2L1265.0 778.8L1266.3 823.1M1273.9 1336.7L1275.2 920.5L1276.5 860.2M1279.0 1135.9L1280.3 1024.9M1284.1 1551.4L1285.4 1046.6M1289.2 1600.0L1290.5 1106.8M1298.2 857.3L1299.4 888.8L1300.7 1045.7M1310.9 995.2L1312.2 820.4L1313.5 1256.0M1319.8 1108.7L1321.1 1007.2M1323.6 953.5L1324.9 1005.6M1333.8 1403.1L1335.1 949.1L1336.4 978.1M1338.9 1005.5L1340.2 987.9M1358.1 1337.3L1359.3 1034.4M1363.2 1033.7L1364.4 792.7M1378.4 1163.8L1379.7 1217.3L1381.0 1148.9M1396.3 1212.5L1397.6 1312.6L1398.8 1394.8M1401.4 1174.4L1402.7 1102.3L1403.9 744.1L1405.2 969.6M1407.8 1126.9L1409.0 967.3M1412.9 821.5L1414.1 1023.7L1415.4 1011.3M1423.1 961.1L1424.3 811.1M1426.9 845.4L1428.1 1133.6L1429.4 845.3M1433.2 822.2L1434.5 1023.7L1435.8 1300.9M1443.4 1370.7L1444.7 963.0L1446.0 1600.0M1449.8 795.8L1451.1 780.0M1457.5 1118.3L1458.7 1103.6L1460.0 1183.4L1461.3 785.1L1462.6 758.1L1463.8 1018.9M1466.4 867.6L1467.7 848.4M1480.4 874.8L1481.7 1076.4L1482.9 893.1M1488.0 923.0L1489.3 935.3L1490.6 1177.5M1493.1 1507.9L1494.4 1118.2"/></g>
<rect x="410" y="837" width="359.8" height="127" fill="#fff"/><rect x="1065" y="921" width="364.3" height="126.3" fill="#fff"/><text transform="translate(948.56 207.80) scale(1 1.0436)" font-family='"Liberation Sans", Arial, sans-serif' font-size="69.50" font-style="italic" fill="#47ab35">T</text><text transform="translate(985.85 226.57) scale(1 1.0436)" font-family='"Liberation Sans", Arial, sans-serif' font-size="45.87" fill="#47ab35">2</text><text transform="translate(1034.84 207.80) scale(1 1.0436)" font-family='"Liberation Sans", Arial, sans-serif' font-size="69.50" fill="#47ab35">=</text><text transform="translate(1092.50 207.80) scale(1 1.0436)" font-family='"Liberation Sans", Arial, sans-serif' font-size="69.50" fill="#47ab35">60</text><text transform="translate(1187.62 207.80) scale(1 1.0000)" font-family='"Liberation Serif", "Times New Roman", serif' font-size="73.67" fill="#47ab35">μ</text><text transform="translate(1229.75 207.80) scale(1 1.0436)" font-family='"Liberation Sans", Arial, sans-serif' font-size="69.50" fill="#47ab35">s</text><text transform="translate(1095.77 586.50) scale(1 1.0436)" font-family='"Liberation Sans", Arial, sans-serif' font-size="69.30" font-style="italic" fill="#e3151f">T</text><text transform="translate(1132.96 605.21) scale(1 1.0436)" font-family='"Liberation Sans", Arial, sans-serif' font-size="45.74" fill="#e3151f">2</text><text transform="translate(1181.81 586.50) scale(1 1.0436)" font-family='"Liberation Sans", Arial, sans-serif' font-size="69.30" fill="#e3151f">=</text><text transform="translate(1240.18 586.50) scale(1 1.0436)" font-family='"Liberation Sans", Arial, sans-serif' font-size="69.30" fill="#e3151f">30</text><text transform="translate(1334.15 586.50) scale(1 1.0000)" font-family='"Liberation Serif", "Times New Roman", serif' font-size="73.46" fill="#e3151f">μ</text><text transform="translate(1376.16 586.50) scale(1 1.0436)" font-family='"Liberation Sans", Arial, sans-serif' font-size="69.30" fill="#e3151f">s</text><text transform="translate(421.50 922.70) scale(1 1.0436)" font-family='"Liberation Sans", Arial, sans-serif' font-size="74.60" font-style="italic" fill="#9d9d9c">T</text><text transform="translate(461.53 942.85) scale(1 1.0436)" font-family='"Liberation Sans", Arial, sans-serif' font-size="49.24" fill="#9d9d9c">2</text><text transform="translate(514.12 922.70) scale(1 1.0436)" font-family='"Liberation Sans", Arial, sans-serif' font-size="74.60" fill="#9d9d9c">=</text><text transform="translate(574.11 922.70) scale(1 1.0436)" font-family='"Liberation Sans", Arial, sans-serif' font-size="74.60" fill="#9d9d9c">10</text><text transform="translate(678.10 922.70) scale(1 1.0000)" font-family='"Liberation Serif", "Times New Roman", serif' font-size="79.08" fill="#9d9d9c">μ</text><text transform="translate(723.33 922.70) scale(1 1.0436)" font-family='"Liberation Sans", Arial, sans-serif' font-size="74.60" fill="#9d9d9c">s</text><text transform="translate(1079.60 1005.70) scale(1 1.0436)" font-family='"Liberation Sans", Arial, sans-serif' font-size="74.60" font-style="italic" fill="#2c52a0">T</text><text transform="translate(1119.63 1025.85) scale(1 1.0436)" font-family='"Liberation Sans", Arial, sans-serif' font-size="49.24" fill="#2c52a0">2</text><text transform="translate(1172.22 1005.70) scale(1 1.0436)" font-family='"Liberation Sans", Arial, sans-serif' font-size="74.60" fill="#2c52a0">=</text><text transform="translate(1234.14 1005.70) scale(1 1.0436)" font-family='"Liberation Sans", Arial, sans-serif' font-size="74.60" fill="#2c52a0">25</text><text transform="translate(1336.20 1005.70) scale(1 1.0000)" font-family='"Liberation Serif", "Times New Roman", serif' font-size="79.08" fill="#2c52a0">μ</text><text transform="translate(1381.43 1005.70) scale(1 1.0436)" font-family='"Liberation Sans", Arial, sans-serif' font-size="74.60" fill="#2c52a0">s</text><rect x="452.6" y="1073.5" width="598.6" height="301.7" fill="#fff" stroke="#1d1d1b" stroke-width="3"/><text transform="translate(461.61 1150.20) scale(1 1.0436)" font-family='"Liberation Sans", Arial, sans-serif' font-size="74.80" fill="#1d1d1b">500 mW</text><line x1="462.3" y1="1225" x2="626.9" y2="1225" stroke="#7880be" stroke-width="6" stroke-linecap="round"/><line x1="462.2" y1="1325.5" x2="627.8" y2="1325.5" stroke="#d2d2d2" stroke-width="4.7"/><text transform="translate(629.60 1250.70) scale(1 1.0000)" font-family='"Liberation Serif", "Times New Roman", serif' font-size="76.00" fill="#1d1d1b">λ</text><text transform="translate(689.41 1250.70) scale(1 1.0436)" font-family='"Liberation Sans", Arial, sans-serif' font-size="73.50" fill="#1d1d1b">=</text><text transform="translate(752.55 1250.70) scale(1 1.0436)" font-family='"Liberation Sans", Arial, sans-serif' font-size="73.50" fill="#1d1d1b">980 nm</text><text transform="translate(629.60 1350.40) scale(1 1.0000)" font-family='"Liberation Serif", "Times New Roman", serif' font-size="76.00" fill="#1d1d1b">λ</text><text transform="translate(689.41 1350.40) scale(1 1.0436)" font-family='"Liberation Sans", Arial, sans-serif' font-size="73.50" fill="#1d1d1b">=</text><text transform="translate(754.40 1350.40) scale(1 1.0436)" font-family='"Liberation Sans", Arial, sans-serif' font-size="73.50" fill="#1d1d1b">1064 nm</text>
<text transform="translate(319.37 112.70) scale(1 1.0436)" font-family='"Liberation Sans", Arial, sans-serif' font-size="80.60" fill="#1d1d1b">1</text><text transform="translate(252.15 566.40) scale(1 1.0436)" font-family='"Liberation Sans", Arial, sans-serif' font-size="80.60" fill="#1d1d1b">0.1</text><text transform="translate(207.33 1020.40) scale(1 1.0436)" font-family='"Liberation Sans", Arial, sans-serif' font-size="80.60" fill="#1d1d1b">0.01</text><text transform="translate(162.50 1474.00) scale(1 1.0436)" font-family='"Liberation Sans", Arial, sans-serif' font-size="80.60" fill="#1d1d1b">0.001</text><text transform="translate(391.19 1541.70) scale(1 1.0436)" font-family='"Liberation Sans", Arial, sans-serif' font-size="80.60" fill="#1d1d1b">0</text><text transform="translate(580.84 1541.70) scale(1 1.0436)" font-family='"Liberation Sans", Arial, sans-serif' font-size="80.60" fill="#1d1d1b">25</text><text transform="translate(793.53 1541.70) scale(1 1.0436)" font-family='"Liberation Sans", Arial, sans-serif' font-size="80.60" fill="#1d1d1b">50</text><text transform="translate(1005.60 1541.70) scale(1 1.0436)" font-family='"Liberation Sans", Arial, sans-serif' font-size="80.60" fill="#1d1d1b">75</text><text transform="translate(1194.47 1541.70) scale(1 1.0436)" font-family='"Liberation Sans", Arial, sans-serif' font-size="80.60" fill="#1d1d1b">100</text><text transform="translate(1406.98 1541.70) scale(1 1.0436)" font-family='"Liberation Sans", Arial, sans-serif' font-size="80.60" fill="#1d1d1b">125</text><text transform="translate(1619.27 1541.70) scale(1 1.0436)" font-family='"Liberation Sans", Arial, sans-serif' font-size="80.60" fill="#1d1d1b">150</text><text transform="translate(1831.78 1541.70) scale(1 1.0436)" font-family='"Liberation Sans", Arial, sans-serif' font-size="80.60" fill="#1d1d1b">175</text><text transform="translate(2045.11 1541.70) scale(1 1.0436)" font-family='"Liberation Sans", Arial, sans-serif' font-size="80.60" fill="#1d1d1b">200</text><g transform="translate(84.9 1062.41) rotate(-90)"><text transform="translate(0.00 0.00) scale(1 1.0436)" font-family='"Liberation Sans", Arial, sans-serif' font-size="80.60" fill="#1d1d1b">ESE intensity (a.u.)</text></g><text transform="translate(1128.95 1676.80) scale(1 1.0436)" font-family='"Liberation Sans", Arial, sans-serif' font-size="80.60" fill="#1d1d1b">2</text><text transform="translate(1174.38 1676.80) scale(1 1.0000)" font-family='"Liberation Serif", "Times New Roman", serif' font-size="83.00" fill="#1d1d1b">τ</text><text transform="translate(1232.00 1676.80) scale(1 1.0000)" font-family='"Liberation Sans", Arial, sans-serif' font-size="80.60" fill="#1d1d1b">(</text><text transform="translate(1259.02 1676.80) scale(1 1.0000)" font-family='"Liberation Serif", "Times New Roman", serif' font-size="80.00" fill="#1d1d1b">μ</text><text transform="translate(1304.86 1676.80) scale(1 1.0436)" font-family='"Liberation Sans", Arial, sans-serif' font-size="80.60" fill="#1d1d1b">s</text><text transform="translate(1346.83 1676.80) scale(1 1.0000)" font-family='"Liberation Sans", Arial, sans-serif' font-size="80.60" fill="#1d1d1b">)</text><text transform="translate(1474.66 165.60) scale(1 1.0436)" font-family='"Liberation Sans", Arial, sans-serif' font-size="74.80" fill="#1d1d1b">P = 125 mW</text><rect x="1474.8" y="236" width="166.2" height="10.2" fill="#47ab35"/><rect x="1474.8" y="337" width="166.2" height="9.4" fill="#e3151f"/><text transform="translate(1661.54 266.20) scale(1 1.0000)" font-family='"Liberation Serif", "Times New Roman", serif' font-size="78.00" fill="#1d1d1b">λ</text><text transform="translate(1722.35 266.20) scale(1 1.0436)" font-family='"Liberation Sans", Arial, sans-serif' font-size="74.80" fill="#1d1d1b">=</text><text transform="translate(1786.49 266.20) scale(1 1.0436)" font-family='"Liberation Sans", Arial, sans-serif' font-size="74.80" fill="#1d1d1b">980 nm</text><text transform="translate(1661.54 367.10) scale(1 1.0000)" font-family='"Liberation Serif", "Times New Roman", serif' font-size="78.00" fill="#1d1d1b">λ</text><text transform="translate(1722.35 367.10) scale(1 1.0436)" font-family='"Liberation Sans", Arial, sans-serif' font-size="74.80" fill="#1d1d1b">=</text><text transform="translate(1788.30 367.10) scale(1 1.0436)" font-family='"Liberation Sans", Arial, sans-serif' font-size="74.80" fill="#1d1d1b">1064 nm</text>
</svg>
</body></html>
